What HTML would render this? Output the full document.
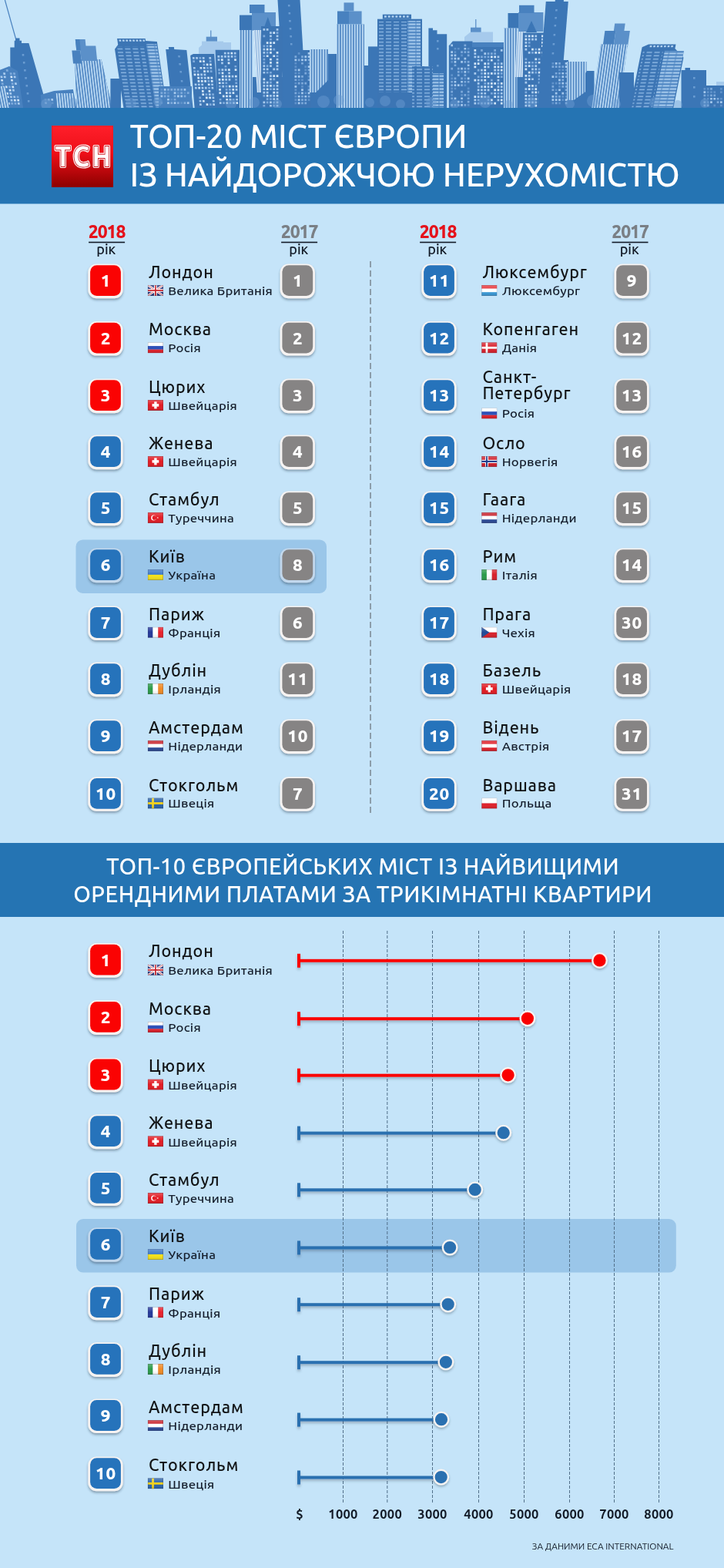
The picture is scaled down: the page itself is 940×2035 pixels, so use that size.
<!DOCTYPE html>
<html lang="uk"><head><meta charset="utf-8"><title>ТОП-20 міст Європи із найдорожчою нерухомістю</title>
<style>
html,body{margin:0;padding:0;background:#c5e4f9;}
body{width:940px;height:2035px;overflow:hidden;}
svg text{font-family:'Ubuntu','Liberation Sans','DejaVu Sans',sans-serif;}
.city{font-size:21.5px;font-weight:500;fill:#111315;letter-spacing:0.85px;}
.ctry{font-size:15.5px;font-weight:500;fill:#141d2b;letter-spacing:0.2px;}
.bn{font-size:22.5px;font-weight:800;fill:#fff;letter-spacing:0.8px;}
.yr{font-size:23px;font-weight:800;letter-spacing:-1.1px;}
.rik{font-size:18px;font-weight:500;fill:#121a26;}
.t1{font-size:42.5px;font-weight:500;fill:#fff;letter-spacing:-0.3px;}
.t2{font-size:29px;font-weight:500;fill:#fff;letter-spacing:0.45px;}
.ax{font-size:16.5px;font-weight:700;fill:#121a26;letter-spacing:0.3px;}
.src{font-size:11.8px;fill:#121a26;}
</style></head><body>
<svg width="940" height="2035" viewBox="0 0 940 2035" style="display:block">
<defs>
<filter id="bsh" x="-30%" y="-30%" width="160%" height="170%"><feDropShadow dx="0" dy="2.2" stdDeviation="1.8" flood-color="#26384a" flood-opacity="0.42"></feDropShadow></filter>
<filter id="dsh" x="-50%" y="-50%" width="200%" height="220%"><feDropShadow dx="0" dy="2" stdDeviation="1.5" flood-color="#2a3a4a" flood-opacity="0.35"></feDropShadow></filter>
<filter id="lsh" x="-5%" y="-100%" width="110%" height="400%"><feDropShadow dx="0" dy="2.5" stdDeviation="1.5" flood-color="#2a3a4a" flood-opacity="0.3"></feDropShadow></filter>
<linearGradient id="flagshade" x1="0" y1="0" x2="0" y2="1"><stop offset="0" stop-color="#fff" stop-opacity="0.25"></stop><stop offset="0.5" stop-color="#fff" stop-opacity="0"></stop><stop offset="1" stop-color="#000" stop-opacity="0.12"></stop></linearGradient>
<linearGradient id="logog" x1="0" y1="0" x2="0" y2="1"><stop offset="0" stop-color="#ff1f2a"></stop><stop offset="0.45" stop-color="#ee0f18"></stop><stop offset="1" stop-color="#8c0000"></stop></linearGradient>
<pattern id="pv" width="3.4" height="10" patternUnits="userSpaceOnUse"><rect x="0.8" width="1.7" height="10" fill="#bcdaf4"></rect></pattern><pattern id="pv2" width="3" height="10" patternUnits="userSpaceOnUse"><rect x="0.6" width="1.1" height="10" fill="#6f9fd3"></rect></pattern><pattern id="ph" width="10" height="4.4" patternUnits="userSpaceOnUse"><rect x="1" y="1.2" width="7" height="1.6" fill="#86b2e0"></rect></pattern><pattern id="ph2" width="10" height="4.2" patternUnits="userSpaceOnUse"><rect x="0.5" y="1.2" width="9" height="1.9" fill="#a9ccee"></rect></pattern><pattern id="pw" width="8" height="8" patternUnits="userSpaceOnUse"><rect x="0.8" y="0.8" width="2.6" height="2.6" fill="#86b1df"></rect><rect x="4.8" y="0.8" width="2.6" height="2.6" fill="#4c83c0"></rect><rect x="0.8" y="4.8" width="2.6" height="2.6" fill="#5187c3"></rect><rect x="4.8" y="4.8" width="2.6" height="2.6" fill="#9dc3ea"></rect></pattern><pattern id="pw2" width="8" height="8" patternUnits="userSpaceOnUse"><rect x="0.8" y="0.8" width="2.8" height="2.8" fill="#b5d5f3"></rect><rect x="4.8" y="0.8" width="2.8" height="2.8" fill="#4a81be"></rect><rect x="0.8" y="4.8" width="2.8" height="2.8" fill="#6898cf"></rect><rect x="4.8" y="4.8" width="2.8" height="2.8" fill="#c3def6"></rect></pattern>
</defs>
<rect width="940" height="2035" fill="#c5e4f9"></rect>
<rect x="0" y="0" width="940" height="141" fill="#c5e4f9"></rect><polygon points="258,62 266,55 300,55 300,140 258,140" fill="#a6caec"></polygon><rect x="262" y="53.6" width="28" height="8.4" fill="#a6caec"></rect><rect x="267.7" y="47.7" width="14.3" height="5.9" fill="#5b90c9"></rect><line x1="273.8" y1="39.5" x2="273.8" y2="48" stroke="#4a82bf" stroke-width="1.1"></line><polygon points="603,48 611,41.5 640,41.5 640,140 603,140" fill="#a6caec"></polygon><rect x="611" y="35.7" width="13.6" height="6" fill="#5b90c9"></rect><line x1="617.8" y1="25" x2="617.8" y2="36" stroke="#4a82bf" stroke-width="1.1"></line><rect x="930" y="106" width="10" height="34" fill="#a6caec"></rect><line x1="6.4" y1="0" x2="20.4" y2="50" stroke="#4a82bf" stroke-width="1.2"></line><polygon points="13.3,61.5 18.7,61.5 18.7,52.8 20,52.8 20,49.4 25.5,49.4 25.5,52.8 28,52.8 28,56 37.4,56 58,128 60,140 13.3,140" fill="#3b76b6"></polygon><rect x="28.68" y="70" width="2.6" height="2.6" fill="#6a9cd2"></rect><rect x="29.88" y="80" width="2.6" height="2.6" fill="#6a9cd2"></rect><rect x="31.08" y="90" width="2.6" height="2.6" fill="#6a9cd2"></rect><rect x="32.28" y="100" width="2.6" height="2.6" fill="#6a9cd2"></rect><rect x="33.48" y="110" width="2.6" height="2.6" fill="#6a9cd2"></rect><rect x="34.68" y="120" width="2.6" height="2.6" fill="#6a9cd2"></rect><rect x="35.88" y="130" width="2.6" height="2.6" fill="#6a9cd2"></rect><g transform="translate(0,86) skewX(8.53) translate(0,-86)"><polygon points="-4,92 12,86 22,92 22,140 -4,140" fill="#4881bf"></polygon><path d="M11.4 98.6h2.7v2.7h-2.7zM-1.5 102.9h2.7v2.7h-2.7zM11.4 102.9h2.7v2.7h-2.7zM2.8 111.5h2.7v2.7h-2.7zM11.4 111.5h2.7v2.7h-2.7zM-1.5 115.8h2.7v2.7h-2.7zM7.1 115.8h2.7v2.7h-2.7zM2.8 120.1h2.7v2.7h-2.7zM-1.5 124.4h2.7v2.7h-2.7zM2.8 124.4h2.7v2.7h-2.7zM11.4 128.7h2.7v2.7h-2.7zM15.7 128.7h2.7v2.7h-2.7zM2.8 133.0h2.7v2.7h-2.7z" fill="#d2e6f8"></path><path d="M2.8 94.3h2.7v2.7h-2.7zM-1.5 98.6h2.7v2.7h-2.7zM2.8 98.6h2.7v2.7h-2.7zM15.7 98.6h2.7v2.7h-2.7zM15.7 107.2h2.7v2.7h-2.7zM-1.5 111.5h2.7v2.7h-2.7zM11.4 115.8h2.7v2.7h-2.7zM-1.5 120.1h2.7v2.7h-2.7zM7.1 120.1h2.7v2.7h-2.7zM7.1 124.4h2.7v2.7h-2.7zM11.4 124.4h2.7v2.7h-2.7zM7.1 128.7h2.7v2.7h-2.7zM-1.5 133.0h2.7v2.7h-2.7zM15.7 133.0h2.7v2.7h-2.7z" fill="#a9cbee"></path><path d="M7.1 90.0h2.7v2.7h-2.7zM11.4 94.3h2.7v2.7h-2.7zM15.7 94.3h2.7v2.7h-2.7zM-1.5 107.2h2.7v2.7h-2.7zM11.4 107.2h2.7v2.7h-2.7zM7.1 111.5h2.7v2.7h-2.7zM15.7 124.4h2.7v2.7h-2.7zM7.1 133.0h2.7v2.7h-2.7zM11.4 133.0h2.7v2.7h-2.7z" fill="#7fabdc"></path></g><g transform="translate(0,112) skewX(11.31) translate(0,-112)"><rect x="-6" y="112" width="13" height="28" fill="#5087c3"></rect><rect x="-6" y="112" width="13" height="28" fill="url(#pv)"></rect></g><g transform="translate(0,117) skewX(5.71) translate(0,-117)"><polygon points="52,123 70,118 95,116 97,140 52,140" fill="#4881bf"></polygon><rect x="72" y="121" width="23" height="19" fill="#5087c3"></rect><rect x="72" y="121" width="23" height="19" fill="url(#pv)"></rect><rect x="54" y="125" width="16" height="15" fill="#4881bf"></rect><path d="M65.1 128.0h2.7v2.7h-2.7z" fill="#a6c9ed"></path><path d="M60.8 128.0h2.7v2.7h-2.7zM56.5 132.3h2.7v2.7h-2.7z" fill="#7eaadb"></path><path d="M56.5 128.0h2.7v2.7h-2.7zM65.1 132.3h2.7v2.7h-2.7z" fill="#5f92ca"></path></g><clipPath id="cpB"><polygon points="97,77 131.5,77 145.5,140 99.6,140"></polygon></clipPath><polygon points="97,77 131.5,77 145.5,140 99.6,140" fill="#5087c3"></polygon><g clip-path="url(#cpB)"><g transform="translate(0,77) skewX(6.84) translate(0,-77)"><rect x="90" y="77" width="60" height="73" fill="#5087c3"></rect><rect x="90" y="77" width="60" height="73" fill="url(#pv)"></rect></g></g><g transform="translate(0,77) skewX(5.71) translate(0,-77)"><rect x="94.5" y="65.5" width="11" height="17" fill="#4881bf"></rect><rect x="100.4" y="51" width="12.8" height="14.5" fill="#5b90c9"></rect><rect x="105.5" y="59.6" width="20.5" height="19.4" fill="#5b90c9"></rect><rect x="100.4" y="51" width="5.6" height="14.5" fill="#4881bf"></rect></g><rect x="143.4" y="102" width="13.6" height="38" fill="#3b76b6"></rect><g transform="translate(0,55) skewX(8.53) translate(0,-55)"><polygon points="147.7,63.8 152.8,58 152.8,50 189.4,50 189.4,53 204,54 204,150 147.7,150" fill="#3c75b4"></polygon><rect x="155" y="51.5" width="2.6" height="2.2" fill="#b3d3f1"></rect><rect x="159.4" y="51.5" width="2.6" height="2.2" fill="#b3d3f1"></rect><rect x="163.8" y="51.5" width="2.6" height="2.2" fill="#b3d3f1"></rect><rect x="168.2" y="51.5" width="2.6" height="2.2" fill="#b3d3f1"></rect><rect x="172.6" y="51.5" width="2.6" height="2.2" fill="#b3d3f1"></rect><rect x="177" y="51.5" width="2.6" height="2.2" fill="#b3d3f1"></rect><rect x="181.4" y="51.5" width="2.6" height="2.2" fill="#b3d3f1"></rect><rect x="185.8" y="51.5" width="2.6" height="2.2" fill="#b3d3f1"></rect><rect x="151" y="60" width="35" height="90" fill="#3c75b4"></rect><rect x="151" y="60" width="35" height="90" fill="url(#ph)"></rect><rect x="189.5" y="57" width="13.5" height="93" fill="#5087c3"></rect><rect x="189.5" y="57" width="13.5" height="93" fill="url(#ph2)"></rect><rect x="168" y="58" width="-166.9" height="34" fill="#b3d3f1"></rect><rect x="187.3" y="56" width="-186.1" height="38" fill="#b3d3f1"></rect></g><g transform="translate(0,62) skewX(6.28) translate(0,-62)"><polygon points="215,64 219,64 219,61 226,61 226,64 242,65 242,150 215,150" fill="#3b76b6"></polygon><rect x="230" y="72" width="2.6" height="2.6" fill="#6a9cd2"></rect><rect x="230" y="82" width="2.6" height="2.6" fill="#6a9cd2"></rect><rect x="230" y="92" width="2.6" height="2.6" fill="#6a9cd2"></rect><rect x="230" y="104" width="2.6" height="2.6" fill="#6a9cd2"></rect><rect x="230" y="116" width="2.6" height="2.6" fill="#6a9cd2"></rect></g><rect x="206" y="112" width="43" height="28" fill="#4881bf"></rect><path d="M212.8 115.0h2.7v2.7h-2.7zM238.6 115.0h2.7v2.7h-2.7zM225.7 119.3h2.7v2.7h-2.7zM208.5 123.6h2.7v2.7h-2.7zM230.0 123.6h2.7v2.7h-2.7zM234.3 123.6h2.7v2.7h-2.7zM217.1 127.9h2.7v2.7h-2.7zM217.1 132.2h2.7v2.7h-2.7zM225.7 132.2h2.7v2.7h-2.7zM242.9 132.2h2.7v2.7h-2.7z" fill="#a6c9ed"></path><path d="M217.1 115.0h2.7v2.7h-2.7zM221.4 115.0h2.7v2.7h-2.7zM225.7 115.0h2.7v2.7h-2.7zM230.0 115.0h2.7v2.7h-2.7zM234.3 115.0h2.7v2.7h-2.7zM208.5 119.3h2.7v2.7h-2.7zM212.8 119.3h2.7v2.7h-2.7zM234.3 119.3h2.7v2.7h-2.7zM242.9 119.3h2.7v2.7h-2.7zM212.8 123.6h2.7v2.7h-2.7zM217.1 123.6h2.7v2.7h-2.7zM225.7 123.6h2.7v2.7h-2.7zM238.6 123.6h2.7v2.7h-2.7zM225.7 127.9h2.7v2.7h-2.7zM221.4 132.2h2.7v2.7h-2.7zM230.0 132.2h2.7v2.7h-2.7zM238.6 132.2h2.7v2.7h-2.7z" fill="#7eaadb"></path><path d="M208.5 115.0h2.7v2.7h-2.7zM217.1 119.3h2.7v2.7h-2.7zM230.0 119.3h2.7v2.7h-2.7zM238.6 119.3h2.7v2.7h-2.7zM221.4 127.9h2.7v2.7h-2.7zM208.5 132.2h2.7v2.7h-2.7zM234.3 132.2h2.7v2.7h-2.7z" fill="#5f92ca"></path><g transform="translate(0,70) skewX(4.57) translate(0,-70)"><polygon points="247,72 251,70 278,70 278,150 247,150" fill="#3c75b4"></polygon><path d="M258.1 78.3h2.7v2.7h-2.7zM262.4 78.3h2.7v2.7h-2.7zM266.7 82.6h2.7v2.7h-2.7zM271.0 82.6h2.7v2.7h-2.7zM258.1 86.9h2.7v2.7h-2.7zM262.4 86.9h2.7v2.7h-2.7zM262.4 91.2h2.7v2.7h-2.7zM249.5 95.5h2.7v2.7h-2.7zM253.8 95.5h2.7v2.7h-2.7zM253.8 99.8h2.7v2.7h-2.7zM266.7 99.8h2.7v2.7h-2.7zM271.0 99.8h2.7v2.7h-2.7zM253.8 104.1h2.7v2.7h-2.7zM258.1 104.1h2.7v2.7h-2.7zM262.4 104.1h2.7v2.7h-2.7zM271.0 104.1h2.7v2.7h-2.7zM266.7 108.4h2.7v2.7h-2.7zM253.8 112.7h2.7v2.7h-2.7zM258.1 117.0h2.7v2.7h-2.7zM266.7 117.0h2.7v2.7h-2.7zM258.1 121.3h2.7v2.7h-2.7zM262.4 125.6h2.7v2.7h-2.7zM266.7 125.6h2.7v2.7h-2.7zM258.1 129.9h2.7v2.7h-2.7zM262.4 134.2h2.7v2.7h-2.7z" fill="#d2e6f8"></path><path d="M249.5 74.0h2.7v2.7h-2.7zM253.8 74.0h2.7v2.7h-2.7zM262.4 74.0h2.7v2.7h-2.7zM271.0 74.0h2.7v2.7h-2.7zM249.5 86.9h2.7v2.7h-2.7zM271.0 86.9h2.7v2.7h-2.7zM266.7 91.2h2.7v2.7h-2.7zM258.1 95.5h2.7v2.7h-2.7zM262.4 95.5h2.7v2.7h-2.7zM258.1 99.8h2.7v2.7h-2.7zM262.4 99.8h2.7v2.7h-2.7zM249.5 108.4h2.7v2.7h-2.7zM253.8 108.4h2.7v2.7h-2.7zM258.1 108.4h2.7v2.7h-2.7zM271.0 108.4h2.7v2.7h-2.7zM249.5 112.7h2.7v2.7h-2.7zM258.1 112.7h2.7v2.7h-2.7zM262.4 112.7h2.7v2.7h-2.7zM271.0 112.7h2.7v2.7h-2.7zM266.7 121.3h2.7v2.7h-2.7zM271.0 125.6h2.7v2.7h-2.7zM253.8 129.9h2.7v2.7h-2.7zM271.0 129.9h2.7v2.7h-2.7zM253.8 134.2h2.7v2.7h-2.7zM271.0 134.2h2.7v2.7h-2.7z" fill="#a9cbee"></path><path d="M258.1 74.0h2.7v2.7h-2.7zM249.5 78.3h2.7v2.7h-2.7zM271.0 78.3h2.7v2.7h-2.7zM262.4 82.6h2.7v2.7h-2.7zM266.7 86.9h2.7v2.7h-2.7zM249.5 91.2h2.7v2.7h-2.7zM253.8 91.2h2.7v2.7h-2.7zM271.0 91.2h2.7v2.7h-2.7zM266.7 104.1h2.7v2.7h-2.7zM266.7 112.7h2.7v2.7h-2.7zM262.4 121.3h2.7v2.7h-2.7zM271.0 121.3h2.7v2.7h-2.7zM253.8 125.6h2.7v2.7h-2.7zM266.7 134.2h2.7v2.7h-2.7z" fill="#7fabdc"></path></g><g transform="translate(0,64) skewX(2.29) translate(0,-64)"><rect x="279.6" y="64.7" width="32.4" height="75.3" fill="#3c75b4"></rect><path d="M299.3 67.7h2.7v2.7h-2.7zM286.4 76.3h2.7v2.7h-2.7zM303.6 76.3h2.7v2.7h-2.7zM295.0 80.6h2.7v2.7h-2.7zM295.0 89.2h2.7v2.7h-2.7zM303.6 89.2h2.7v2.7h-2.7zM286.4 93.5h2.7v2.7h-2.7zM286.4 97.8h2.7v2.7h-2.7zM295.0 97.8h2.7v2.7h-2.7zM303.6 97.8h2.7v2.7h-2.7zM282.1 102.1h2.7v2.7h-2.7zM286.4 102.1h2.7v2.7h-2.7zM282.1 106.4h2.7v2.7h-2.7zM295.0 110.7h2.7v2.7h-2.7zM303.6 110.7h2.7v2.7h-2.7zM282.1 115.0h2.7v2.7h-2.7zM299.3 115.0h2.7v2.7h-2.7zM282.1 119.3h2.7v2.7h-2.7zM290.7 119.3h2.7v2.7h-2.7zM299.3 119.3h2.7v2.7h-2.7zM286.4 123.6h2.7v2.7h-2.7zM290.7 123.6h2.7v2.7h-2.7zM295.0 123.6h2.7v2.7h-2.7zM290.7 127.9h2.7v2.7h-2.7zM295.0 127.9h2.7v2.7h-2.7zM290.7 132.2h2.7v2.7h-2.7zM303.6 132.2h2.7v2.7h-2.7z" fill="#d2e6f8"></path><path d="M290.7 67.7h2.7v2.7h-2.7zM295.0 67.7h2.7v2.7h-2.7zM303.6 67.7h2.7v2.7h-2.7zM282.1 72.0h2.7v2.7h-2.7zM286.4 72.0h2.7v2.7h-2.7zM290.7 72.0h2.7v2.7h-2.7zM295.0 72.0h2.7v2.7h-2.7zM299.3 72.0h2.7v2.7h-2.7zM282.1 76.3h2.7v2.7h-2.7zM295.0 76.3h2.7v2.7h-2.7zM286.4 80.6h2.7v2.7h-2.7zM286.4 89.2h2.7v2.7h-2.7zM290.7 89.2h2.7v2.7h-2.7zM295.0 93.5h2.7v2.7h-2.7zM290.7 97.8h2.7v2.7h-2.7zM299.3 97.8h2.7v2.7h-2.7zM290.7 102.1h2.7v2.7h-2.7zM295.0 102.1h2.7v2.7h-2.7zM286.4 106.4h2.7v2.7h-2.7zM286.4 110.7h2.7v2.7h-2.7zM299.3 110.7h2.7v2.7h-2.7zM303.6 115.0h2.7v2.7h-2.7zM295.0 119.3h2.7v2.7h-2.7zM303.6 123.6h2.7v2.7h-2.7zM303.6 127.9h2.7v2.7h-2.7zM282.1 132.2h2.7v2.7h-2.7zM299.3 132.2h2.7v2.7h-2.7z" fill="#a9cbee"></path><path d="M303.6 72.0h2.7v2.7h-2.7zM290.7 84.9h2.7v2.7h-2.7zM303.6 84.9h2.7v2.7h-2.7zM282.1 89.2h2.7v2.7h-2.7zM282.1 93.5h2.7v2.7h-2.7zM303.6 102.1h2.7v2.7h-2.7zM290.7 106.4h2.7v2.7h-2.7zM303.6 106.4h2.7v2.7h-2.7zM282.1 110.7h2.7v2.7h-2.7zM290.7 110.7h2.7v2.7h-2.7zM290.7 115.0h2.7v2.7h-2.7zM295.0 115.0h2.7v2.7h-2.7zM282.1 127.9h2.7v2.7h-2.7zM299.3 127.9h2.7v2.7h-2.7zM286.4 132.2h2.7v2.7h-2.7zM295.0 132.2h2.7v2.7h-2.7z" fill="#7fabdc"></path></g><rect x="318" y="100" width="122" height="40" fill="#3b76b6"></rect><rect x="311" y="19.6" width="16.3" height="19.4" fill="#3b76b6"></rect><rect x="327" y="16" width="31" height="24" fill="#5b90c9"></rect><rect x="324" y="6" width="19.5" height="11" fill="#4881bf"></rect><rect x="311" y="39" width="17" height="101" fill="#5087c3"></rect><rect x="311" y="39" width="17" height="101" fill="url(#pv)"></rect><g transform="translate(0,39) skewX(3.43) translate(0,-39)"><rect x="329" y="39" width="12" height="81" fill="#dcecfa"></rect><rect x="329" y="39" width="12" height="81" fill="url(#pv2)"></rect></g><g transform="translate(0,0) skewX(3.43) translate(0,0)"><rect x="360.5" y="0" width="29" height="140" fill="#3b76b6"></rect><rect x="373.5" y="6" width="2.6" height="2.6" fill="#6a9cd2"></rect><rect x="373.5" y="16" width="2.6" height="2.6" fill="#6a9cd2"></rect><rect x="373.5" y="26" width="2.6" height="2.6" fill="#6a9cd2"></rect><rect x="373.5" y="36" width="2.6" height="2.6" fill="#6a9cd2"></rect><rect x="373.5" y="46" width="2.6" height="2.6" fill="#6a9cd2"></rect><rect x="373.5" y="56" width="2.6" height="2.6" fill="#6a9cd2"></rect></g><polygon points="343.5,34 347.8,22 352,34" fill="#3b76b6"></polygon><rect x="339" y="34" width="27.5" height="106" fill="#3c75b4"></rect><path d="M354.4 41.3h2.7v2.7h-2.7zM345.8 54.2h2.7v2.7h-2.7zM350.1 54.2h2.7v2.7h-2.7zM354.4 54.2h2.7v2.7h-2.7zM350.1 58.5h2.7v2.7h-2.7zM345.8 62.8h2.7v2.7h-2.7zM350.1 62.8h2.7v2.7h-2.7zM350.1 67.1h2.7v2.7h-2.7zM358.7 67.1h2.7v2.7h-2.7zM345.8 71.4h2.7v2.7h-2.7zM354.4 71.4h2.7v2.7h-2.7zM350.1 75.7h2.7v2.7h-2.7zM350.1 80.0h2.7v2.7h-2.7zM358.7 80.0h2.7v2.7h-2.7zM354.4 97.2h2.7v2.7h-2.7zM358.7 97.2h2.7v2.7h-2.7zM341.5 101.5h2.7v2.7h-2.7zM358.7 105.8h2.7v2.7h-2.7zM350.1 110.1h2.7v2.7h-2.7zM345.8 114.4h2.7v2.7h-2.7zM354.4 118.7h2.7v2.7h-2.7zM345.8 123.0h2.7v2.7h-2.7zM358.7 123.0h2.7v2.7h-2.7z" fill="#d2e6f8"></path><path d="M341.5 37.0h2.7v2.7h-2.7zM345.8 37.0h2.7v2.7h-2.7zM358.7 37.0h2.7v2.7h-2.7zM350.1 41.3h2.7v2.7h-2.7zM350.1 45.6h2.7v2.7h-2.7zM358.7 45.6h2.7v2.7h-2.7zM358.7 49.9h2.7v2.7h-2.7zM341.5 62.8h2.7v2.7h-2.7zM341.5 67.1h2.7v2.7h-2.7zM358.7 75.7h2.7v2.7h-2.7zM341.5 84.3h2.7v2.7h-2.7zM350.1 84.3h2.7v2.7h-2.7zM358.7 84.3h2.7v2.7h-2.7zM341.5 88.6h2.7v2.7h-2.7zM345.8 88.6h2.7v2.7h-2.7zM354.4 88.6h2.7v2.7h-2.7zM358.7 88.6h2.7v2.7h-2.7zM341.5 92.9h2.7v2.7h-2.7zM350.1 97.2h2.7v2.7h-2.7zM350.1 101.5h2.7v2.7h-2.7zM341.5 105.8h2.7v2.7h-2.7zM345.8 105.8h2.7v2.7h-2.7zM341.5 110.1h2.7v2.7h-2.7zM345.8 110.1h2.7v2.7h-2.7zM358.7 110.1h2.7v2.7h-2.7zM341.5 114.4h2.7v2.7h-2.7zM354.4 114.4h2.7v2.7h-2.7zM358.7 114.4h2.7v2.7h-2.7zM341.5 118.7h2.7v2.7h-2.7zM345.8 118.7h2.7v2.7h-2.7zM358.7 118.7h2.7v2.7h-2.7zM350.1 123.0h2.7v2.7h-2.7zM354.4 123.0h2.7v2.7h-2.7zM354.4 127.3h2.7v2.7h-2.7zM358.7 127.3h2.7v2.7h-2.7zM341.5 131.6h2.7v2.7h-2.7zM350.1 131.6h2.7v2.7h-2.7zM358.7 131.6h2.7v2.7h-2.7zM350.1 135.9h2.7v2.7h-2.7zM358.7 135.9h2.7v2.7h-2.7z" fill="#a9cbee"></path><path d="M358.7 41.3h2.7v2.7h-2.7zM341.5 45.6h2.7v2.7h-2.7zM350.1 49.9h2.7v2.7h-2.7zM341.5 58.5h2.7v2.7h-2.7zM345.8 58.5h2.7v2.7h-2.7zM354.4 62.8h2.7v2.7h-2.7zM345.8 67.1h2.7v2.7h-2.7zM341.5 71.4h2.7v2.7h-2.7zM358.7 71.4h2.7v2.7h-2.7zM341.5 75.7h2.7v2.7h-2.7zM341.5 80.0h2.7v2.7h-2.7zM345.8 84.3h2.7v2.7h-2.7zM345.8 92.9h2.7v2.7h-2.7zM350.1 92.9h2.7v2.7h-2.7zM354.4 101.5h2.7v2.7h-2.7zM350.1 105.8h2.7v2.7h-2.7zM354.4 110.1h2.7v2.7h-2.7zM350.1 114.4h2.7v2.7h-2.7zM341.5 123.0h2.7v2.7h-2.7zM345.8 127.3h2.7v2.7h-2.7zM350.1 127.3h2.7v2.7h-2.7zM345.8 131.6h2.7v2.7h-2.7zM354.4 131.6h2.7v2.7h-2.7zM341.5 135.9h2.7v2.7h-2.7zM354.4 135.9h2.7v2.7h-2.7z" fill="#7fabdc"></path><rect x="380" y="65" width="24" height="75" fill="#3c75b4"></rect><path d="M399.7 68.0h2.7v2.7h-2.7zM395.4 72.3h2.7v2.7h-2.7zM399.7 72.3h2.7v2.7h-2.7zM382.5 76.6h2.7v2.7h-2.7zM391.1 76.6h2.7v2.7h-2.7zM395.4 76.6h2.7v2.7h-2.7zM399.7 85.2h2.7v2.7h-2.7zM386.8 89.5h2.7v2.7h-2.7zM382.5 98.1h2.7v2.7h-2.7zM386.8 98.1h2.7v2.7h-2.7zM382.5 111.0h2.7v2.7h-2.7zM391.1 115.3h2.7v2.7h-2.7zM391.1 119.6h2.7v2.7h-2.7zM399.7 119.6h2.7v2.7h-2.7zM386.8 123.9h2.7v2.7h-2.7zM395.4 123.9h2.7v2.7h-2.7zM386.8 128.2h2.7v2.7h-2.7zM386.8 132.5h2.7v2.7h-2.7z" fill="#a6c9ed"></path><path d="M382.5 72.3h2.7v2.7h-2.7zM391.1 72.3h2.7v2.7h-2.7zM386.8 76.6h2.7v2.7h-2.7zM399.7 76.6h2.7v2.7h-2.7zM391.1 80.9h2.7v2.7h-2.7zM382.5 89.5h2.7v2.7h-2.7zM399.7 89.5h2.7v2.7h-2.7zM395.4 93.8h2.7v2.7h-2.7zM391.1 98.1h2.7v2.7h-2.7zM382.5 102.4h2.7v2.7h-2.7zM399.7 102.4h2.7v2.7h-2.7zM386.8 106.7h2.7v2.7h-2.7zM391.1 106.7h2.7v2.7h-2.7zM395.4 106.7h2.7v2.7h-2.7zM399.7 115.3h2.7v2.7h-2.7zM382.5 119.6h2.7v2.7h-2.7zM391.1 123.9h2.7v2.7h-2.7zM399.7 123.9h2.7v2.7h-2.7zM391.1 128.2h2.7v2.7h-2.7zM395.4 128.2h2.7v2.7h-2.7zM391.1 132.5h2.7v2.7h-2.7zM395.4 132.5h2.7v2.7h-2.7z" fill="#7eaadb"></path><path d="M386.8 68.0h2.7v2.7h-2.7zM382.5 80.9h2.7v2.7h-2.7zM399.7 80.9h2.7v2.7h-2.7zM382.5 85.2h2.7v2.7h-2.7zM395.4 85.2h2.7v2.7h-2.7zM395.4 89.5h2.7v2.7h-2.7zM382.5 93.8h2.7v2.7h-2.7zM386.8 93.8h2.7v2.7h-2.7zM399.7 93.8h2.7v2.7h-2.7zM399.7 98.1h2.7v2.7h-2.7zM386.8 102.4h2.7v2.7h-2.7zM391.1 102.4h2.7v2.7h-2.7zM382.5 106.7h2.7v2.7h-2.7zM391.1 111.0h2.7v2.7h-2.7zM399.7 111.0h2.7v2.7h-2.7zM382.5 115.3h2.7v2.7h-2.7zM386.8 119.6h2.7v2.7h-2.7zM395.4 119.6h2.7v2.7h-2.7zM382.5 123.9h2.7v2.7h-2.7zM382.5 128.2h2.7v2.7h-2.7zM399.7 128.2h2.7v2.7h-2.7zM382.5 132.5h2.7v2.7h-2.7z" fill="#5f92ca"></path><polygon points="402,64 426,64 426,104 410,120 402,120" fill="#5087c3"></polygon><polygon points="402,64 426,64 426,104 410,120 402,120" fill="url(#pv)"></polygon><rect x="426" y="70" width="14" height="70" fill="#3b76b6"></rect><rect x="446.5" y="3.4" width="12.9" height="11.1" fill="#5b90c9"></rect><rect x="438" y="14.5" width="15" height="17" fill="#4881bf"></rect><rect x="453" y="14.5" width="16.6" height="17" fill="#5b90c9"></rect><rect x="437" y="31.5" width="36" height="108.5" fill="#5087c3"></rect><rect x="437" y="31.5" width="36" height="108.5" fill="url(#pv)"></rect><rect x="473" y="85" width="5" height="55" fill="#3b76b6"></rect><rect x="478" y="60.4" width="12" height="79.6" fill="#3b76b6"></rect><rect x="496.8" y="18.7" width="37.2" height="6" fill="#3c75b4"></rect><rect x="499" y="20.3" width="2.8" height="2.4" fill="#b3d3f1"></rect><rect x="503.8" y="20.3" width="2.8" height="2.4" fill="#b3d3f1"></rect><rect x="508.6" y="20.3" width="2.8" height="2.4" fill="#b3d3f1"></rect><rect x="513.4" y="20.3" width="2.8" height="2.4" fill="#b3d3f1"></rect><rect x="518.2" y="20.3" width="2.8" height="2.4" fill="#b3d3f1"></rect><rect x="523" y="20.3" width="2.8" height="2.4" fill="#b3d3f1"></rect><rect x="527.8" y="20.3" width="2.8" height="2.4" fill="#b3d3f1"></rect><rect x="490" y="24.7" width="58" height="115.3" fill="#3c75b4"></rect><rect x="492" y="28" width="36" height="92" fill="#3c75b4"></rect><rect x="492" y="28" width="36" height="92" fill="url(#ph)"></rect><rect x="529" y="27" width="17" height="93" fill="#5087c3"></rect><rect x="529" y="27" width="17" height="93" fill="url(#ph2)"></rect><rect x="501" y="26" width="-499.9" height="68" fill="#b3d3f1"></rect><rect x="515.5" y="26" width="-514.4" height="68" fill="#b3d3f1"></rect><rect x="528.3" y="26" width="-527.2" height="68" fill="#b3d3f1"></rect><polygon points="556.4,36.6 562,36.6 562,39.2 567.5,39.2 567.5,44.2 580.2,44.2 580.2,140 556.4,140" fill="#3b76b6"></polygon><rect x="567" y="52" width="2.6" height="2.6" fill="#6a9cd2"></rect><rect x="567" y="62" width="2.6" height="2.6" fill="#6a9cd2"></rect><rect x="567" y="84" width="2.6" height="2.6" fill="#6a9cd2"></rect><rect x="535" y="86" width="27" height="54" fill="#3c75b4"></rect><rect x="535" y="86" width="27" height="54" fill="url(#ph)"></rect><rect x="562" y="95" width="14" height="45" fill="#4881bf"></rect><rect x="562" y="95" width="14" height="45" fill="url(#ph2)"></rect><polygon points="582.8,59.6 587.8,53.6 613.5,53.6 613.5,140 582.8,140" fill="#3c75b4"></polygon><path d="M585.3 57.6h2.7v2.7h-2.7zM602.5 61.9h2.7v2.7h-2.7zM585.3 66.2h2.7v2.7h-2.7zM585.3 70.5h2.7v2.7h-2.7zM589.6 70.5h2.7v2.7h-2.7zM589.6 74.8h2.7v2.7h-2.7zM593.9 74.8h2.7v2.7h-2.7zM602.5 74.8h2.7v2.7h-2.7zM589.6 79.1h2.7v2.7h-2.7zM598.2 79.1h2.7v2.7h-2.7zM606.8 83.4h2.7v2.7h-2.7zM598.2 87.7h2.7v2.7h-2.7zM602.5 92.0h2.7v2.7h-2.7zM606.8 100.6h2.7v2.7h-2.7zM589.6 104.9h2.7v2.7h-2.7zM598.2 104.9h2.7v2.7h-2.7zM589.6 109.2h2.7v2.7h-2.7zM593.9 109.2h2.7v2.7h-2.7zM589.6 126.4h2.7v2.7h-2.7zM598.2 126.4h2.7v2.7h-2.7zM593.9 130.7h2.7v2.7h-2.7zM585.3 135.0h2.7v2.7h-2.7zM598.2 135.0h2.7v2.7h-2.7z" fill="#a6c9ed"></path><path d="M602.5 57.6h2.7v2.7h-2.7zM598.2 66.2h2.7v2.7h-2.7zM602.5 66.2h2.7v2.7h-2.7zM606.8 66.2h2.7v2.7h-2.7zM606.8 70.5h2.7v2.7h-2.7zM585.3 74.8h2.7v2.7h-2.7zM602.5 79.1h2.7v2.7h-2.7zM606.8 79.1h2.7v2.7h-2.7zM589.6 83.4h2.7v2.7h-2.7zM585.3 87.7h2.7v2.7h-2.7zM593.9 87.7h2.7v2.7h-2.7zM602.5 87.7h2.7v2.7h-2.7zM606.8 87.7h2.7v2.7h-2.7zM593.9 92.0h2.7v2.7h-2.7zM593.9 96.3h2.7v2.7h-2.7zM602.5 96.3h2.7v2.7h-2.7zM589.6 100.6h2.7v2.7h-2.7zM598.2 100.6h2.7v2.7h-2.7zM585.3 104.9h2.7v2.7h-2.7zM602.5 104.9h2.7v2.7h-2.7zM606.8 104.9h2.7v2.7h-2.7zM585.3 109.2h2.7v2.7h-2.7zM598.2 109.2h2.7v2.7h-2.7zM585.3 117.8h2.7v2.7h-2.7zM598.2 117.8h2.7v2.7h-2.7zM606.8 117.8h2.7v2.7h-2.7zM602.5 122.1h2.7v2.7h-2.7zM585.3 126.4h2.7v2.7h-2.7zM606.8 126.4h2.7v2.7h-2.7zM598.2 130.7h2.7v2.7h-2.7zM606.8 130.7h2.7v2.7h-2.7zM589.6 135.0h2.7v2.7h-2.7zM593.9 135.0h2.7v2.7h-2.7zM602.5 135.0h2.7v2.7h-2.7z" fill="#7eaadb"></path><path d="M589.6 61.9h2.7v2.7h-2.7zM593.9 61.9h2.7v2.7h-2.7zM606.8 61.9h2.7v2.7h-2.7zM589.6 66.2h2.7v2.7h-2.7zM598.2 70.5h2.7v2.7h-2.7zM585.3 79.1h2.7v2.7h-2.7zM598.2 92.0h2.7v2.7h-2.7zM606.8 92.0h2.7v2.7h-2.7zM585.3 96.3h2.7v2.7h-2.7zM585.3 100.6h2.7v2.7h-2.7zM602.5 100.6h2.7v2.7h-2.7zM602.5 109.2h2.7v2.7h-2.7zM585.3 113.5h2.7v2.7h-2.7zM589.6 113.5h2.7v2.7h-2.7zM606.8 113.5h2.7v2.7h-2.7zM585.3 122.1h2.7v2.7h-2.7zM598.2 122.1h2.7v2.7h-2.7zM606.8 122.1h2.7v2.7h-2.7zM606.8 135.0h2.7v2.7h-2.7z" fill="#5f92ca"></path><rect x="613" y="55" width="48" height="6" fill="#4881bf"></rect><rect x="613" y="61" width="48" height="79" fill="#3c75b4"></rect><path d="M615.5 64.0h2.7v2.7h-2.7zM637.0 72.6h2.7v2.7h-2.7zM641.3 72.6h2.7v2.7h-2.7zM654.2 72.6h2.7v2.7h-2.7zM637.0 76.9h2.7v2.7h-2.7zM615.5 81.2h2.7v2.7h-2.7zM619.8 81.2h2.7v2.7h-2.7zM628.4 81.2h2.7v2.7h-2.7zM615.5 85.5h2.7v2.7h-2.7zM628.4 85.5h2.7v2.7h-2.7zM641.3 85.5h2.7v2.7h-2.7zM645.6 85.5h2.7v2.7h-2.7zM649.9 85.5h2.7v2.7h-2.7zM628.4 89.8h2.7v2.7h-2.7zM649.9 89.8h2.7v2.7h-2.7zM628.4 94.1h2.7v2.7h-2.7zM637.0 94.1h2.7v2.7h-2.7zM628.4 98.4h2.7v2.7h-2.7zM632.7 98.4h2.7v2.7h-2.7zM645.6 98.4h2.7v2.7h-2.7zM615.5 102.7h2.7v2.7h-2.7zM628.4 102.7h2.7v2.7h-2.7zM637.0 107.0h2.7v2.7h-2.7zM641.3 107.0h2.7v2.7h-2.7zM649.9 107.0h2.7v2.7h-2.7zM654.2 107.0h2.7v2.7h-2.7zM628.4 111.3h2.7v2.7h-2.7zM637.0 111.3h2.7v2.7h-2.7zM654.2 111.3h2.7v2.7h-2.7zM641.3 115.6h2.7v2.7h-2.7zM645.6 115.6h2.7v2.7h-2.7zM654.2 119.9h2.7v2.7h-2.7zM615.5 124.2h2.7v2.7h-2.7zM624.1 124.2h2.7v2.7h-2.7zM641.3 124.2h2.7v2.7h-2.7zM637.0 128.5h2.7v2.7h-2.7zM649.9 128.5h2.7v2.7h-2.7zM641.3 132.8h2.7v2.7h-2.7zM649.9 132.8h2.7v2.7h-2.7z" fill="#d2e6f8"></path><path d="M649.9 64.0h2.7v2.7h-2.7zM654.2 64.0h2.7v2.7h-2.7zM615.5 68.3h2.7v2.7h-2.7zM628.4 68.3h2.7v2.7h-2.7zM615.5 72.6h2.7v2.7h-2.7zM619.8 72.6h2.7v2.7h-2.7zM645.6 72.6h2.7v2.7h-2.7zM619.8 76.9h2.7v2.7h-2.7zM624.1 76.9h2.7v2.7h-2.7zM632.7 81.2h2.7v2.7h-2.7zM641.3 81.2h2.7v2.7h-2.7zM649.9 81.2h2.7v2.7h-2.7zM632.7 85.5h2.7v2.7h-2.7zM624.1 89.8h2.7v2.7h-2.7zM641.3 89.8h2.7v2.7h-2.7zM645.6 89.8h2.7v2.7h-2.7zM615.5 94.1h2.7v2.7h-2.7zM632.7 94.1h2.7v2.7h-2.7zM641.3 94.1h2.7v2.7h-2.7zM645.6 94.1h2.7v2.7h-2.7zM654.2 94.1h2.7v2.7h-2.7zM619.8 102.7h2.7v2.7h-2.7zM624.1 102.7h2.7v2.7h-2.7zM645.6 102.7h2.7v2.7h-2.7zM654.2 102.7h2.7v2.7h-2.7zM619.8 107.0h2.7v2.7h-2.7zM632.7 107.0h2.7v2.7h-2.7zM624.1 111.3h2.7v2.7h-2.7zM632.7 111.3h2.7v2.7h-2.7zM645.6 111.3h2.7v2.7h-2.7zM649.9 111.3h2.7v2.7h-2.7zM619.8 115.6h2.7v2.7h-2.7zM624.1 115.6h2.7v2.7h-2.7zM628.4 115.6h2.7v2.7h-2.7zM632.7 115.6h2.7v2.7h-2.7zM649.9 115.6h2.7v2.7h-2.7zM654.2 115.6h2.7v2.7h-2.7zM624.1 119.9h2.7v2.7h-2.7zM628.4 119.9h2.7v2.7h-2.7zM641.3 119.9h2.7v2.7h-2.7zM649.9 119.9h2.7v2.7h-2.7zM619.8 124.2h2.7v2.7h-2.7zM628.4 124.2h2.7v2.7h-2.7zM645.6 124.2h2.7v2.7h-2.7zM649.9 124.2h2.7v2.7h-2.7zM615.5 128.5h2.7v2.7h-2.7zM645.6 128.5h2.7v2.7h-2.7zM654.2 128.5h2.7v2.7h-2.7zM615.5 132.8h2.7v2.7h-2.7zM632.7 132.8h2.7v2.7h-2.7z" fill="#a9cbee"></path><path d="M624.1 64.0h2.7v2.7h-2.7zM641.3 64.0h2.7v2.7h-2.7zM632.7 68.3h2.7v2.7h-2.7zM637.0 68.3h2.7v2.7h-2.7zM641.3 68.3h2.7v2.7h-2.7zM624.1 72.6h2.7v2.7h-2.7zM628.4 72.6h2.7v2.7h-2.7zM632.7 72.6h2.7v2.7h-2.7zM632.7 76.9h2.7v2.7h-2.7zM645.6 76.9h2.7v2.7h-2.7zM654.2 76.9h2.7v2.7h-2.7zM645.6 81.2h2.7v2.7h-2.7zM619.8 89.8h2.7v2.7h-2.7zM624.1 94.1h2.7v2.7h-2.7zM649.9 94.1h2.7v2.7h-2.7zM619.8 98.4h2.7v2.7h-2.7zM624.1 98.4h2.7v2.7h-2.7zM649.9 98.4h2.7v2.7h-2.7zM637.0 102.7h2.7v2.7h-2.7zM628.4 107.0h2.7v2.7h-2.7zM645.6 107.0h2.7v2.7h-2.7zM619.8 111.3h2.7v2.7h-2.7zM619.8 119.9h2.7v2.7h-2.7zM637.0 119.9h2.7v2.7h-2.7zM645.6 119.9h2.7v2.7h-2.7zM632.7 124.2h2.7v2.7h-2.7zM654.2 124.2h2.7v2.7h-2.7zM619.8 128.5h2.7v2.7h-2.7zM632.7 128.5h2.7v2.7h-2.7zM619.8 132.8h2.7v2.7h-2.7zM624.1 132.8h2.7v2.7h-2.7zM628.4 132.8h2.7v2.7h-2.7zM637.0 132.8h2.7v2.7h-2.7z" fill="#7fabdc"></path><rect x="665" y="95" width="95" height="45" fill="#3b76b6"></rect><rect x="659.5" y="17" width="13.5" height="19.6" fill="#3b76b6"></rect><rect x="673" y="16" width="32.4" height="25" fill="#5b90c9"></rect><rect x="674" y="6.8" width="19.5" height="10.2" fill="#4881bf"></rect><rect x="654" y="36.6" width="17.4" height="103.4" fill="#5087c3"></rect><rect x="654" y="36.6" width="17.4" height="103.4" fill="url(#pv)"></rect><g transform="translate(0,41) skewX(-2.86) translate(0,-41)"><rect x="671.4" y="41" width="10.2" height="59" fill="#dcecfa"></rect><rect x="671.4" y="41" width="10.2" height="59" fill="url(#pv2)"></rect></g><polygon points="683,42 690,27 697,42" fill="#3b76b6"></polygon><rect x="679" y="42.5" width="29" height="97.5" fill="#3c75b4"></rect><path d="M685.8 45.5h2.7v2.7h-2.7zM690.1 45.5h2.7v2.7h-2.7zM703.0 45.5h2.7v2.7h-2.7zM681.5 49.8h2.7v2.7h-2.7zM703.0 54.1h2.7v2.7h-2.7zM681.5 58.4h2.7v2.7h-2.7zM703.0 58.4h2.7v2.7h-2.7zM690.1 62.7h2.7v2.7h-2.7zM698.7 62.7h2.7v2.7h-2.7zM694.4 67.0h2.7v2.7h-2.7zM698.7 67.0h2.7v2.7h-2.7zM703.0 67.0h2.7v2.7h-2.7zM694.4 75.6h2.7v2.7h-2.7zM698.7 79.9h2.7v2.7h-2.7zM685.8 84.2h2.7v2.7h-2.7zM681.5 88.5h2.7v2.7h-2.7zM703.0 88.5h2.7v2.7h-2.7zM685.8 92.8h2.7v2.7h-2.7zM698.7 92.8h2.7v2.7h-2.7zM681.5 97.1h2.7v2.7h-2.7zM685.8 101.4h2.7v2.7h-2.7zM685.8 110.0h2.7v2.7h-2.7zM690.1 110.0h2.7v2.7h-2.7zM685.8 114.3h2.7v2.7h-2.7zM694.4 114.3h2.7v2.7h-2.7zM694.4 118.6h2.7v2.7h-2.7zM698.7 118.6h2.7v2.7h-2.7zM681.5 122.9h2.7v2.7h-2.7zM694.4 127.2h2.7v2.7h-2.7zM698.7 131.5h2.7v2.7h-2.7zM685.8 135.8h2.7v2.7h-2.7zM694.4 135.8h2.7v2.7h-2.7z" fill="#d2e6f8"></path><path d="M681.5 45.5h2.7v2.7h-2.7zM694.4 45.5h2.7v2.7h-2.7zM685.8 49.8h2.7v2.7h-2.7zM690.1 49.8h2.7v2.7h-2.7zM694.4 49.8h2.7v2.7h-2.7zM703.0 49.8h2.7v2.7h-2.7zM681.5 54.1h2.7v2.7h-2.7zM681.5 62.7h2.7v2.7h-2.7zM685.8 67.0h2.7v2.7h-2.7zM703.0 75.6h2.7v2.7h-2.7zM681.5 79.9h2.7v2.7h-2.7zM685.8 79.9h2.7v2.7h-2.7zM681.5 84.2h2.7v2.7h-2.7zM694.4 84.2h2.7v2.7h-2.7zM690.1 88.5h2.7v2.7h-2.7zM694.4 88.5h2.7v2.7h-2.7zM690.1 92.8h2.7v2.7h-2.7zM703.0 92.8h2.7v2.7h-2.7zM685.8 97.1h2.7v2.7h-2.7zM681.5 101.4h2.7v2.7h-2.7zM690.1 101.4h2.7v2.7h-2.7zM681.5 105.7h2.7v2.7h-2.7zM703.0 110.0h2.7v2.7h-2.7zM681.5 114.3h2.7v2.7h-2.7zM690.1 118.6h2.7v2.7h-2.7zM685.8 122.9h2.7v2.7h-2.7zM681.5 127.2h2.7v2.7h-2.7zM685.8 127.2h2.7v2.7h-2.7zM698.7 127.2h2.7v2.7h-2.7zM681.5 131.5h2.7v2.7h-2.7zM685.8 131.5h2.7v2.7h-2.7zM690.1 131.5h2.7v2.7h-2.7zM694.4 131.5h2.7v2.7h-2.7zM703.0 131.5h2.7v2.7h-2.7zM681.5 135.8h2.7v2.7h-2.7zM698.7 135.8h2.7v2.7h-2.7z" fill="#a9cbee"></path><path d="M685.8 54.1h2.7v2.7h-2.7zM685.8 58.4h2.7v2.7h-2.7zM694.4 62.7h2.7v2.7h-2.7zM690.1 67.0h2.7v2.7h-2.7zM703.0 71.3h2.7v2.7h-2.7zM681.5 75.6h2.7v2.7h-2.7zM698.7 75.6h2.7v2.7h-2.7zM690.1 79.9h2.7v2.7h-2.7zM694.4 79.9h2.7v2.7h-2.7zM690.1 84.2h2.7v2.7h-2.7zM703.0 84.2h2.7v2.7h-2.7zM698.7 88.5h2.7v2.7h-2.7zM694.4 92.8h2.7v2.7h-2.7zM698.7 97.1h2.7v2.7h-2.7zM703.0 97.1h2.7v2.7h-2.7zM698.7 101.4h2.7v2.7h-2.7zM698.7 105.7h2.7v2.7h-2.7zM703.0 105.7h2.7v2.7h-2.7zM694.4 110.0h2.7v2.7h-2.7zM690.1 114.3h2.7v2.7h-2.7zM703.0 114.3h2.7v2.7h-2.7zM681.5 118.6h2.7v2.7h-2.7zM690.1 122.9h2.7v2.7h-2.7zM694.4 122.9h2.7v2.7h-2.7zM703.0 122.9h2.7v2.7h-2.7zM690.1 127.2h2.7v2.7h-2.7z" fill="#7fabdc"></path><g transform="translate(0,2) skewX(-4.57) translate(0,-2)"><rect x="720.7" y="0" width="11.1" height="4" fill="#3b76b6"></rect><rect x="708.8" y="2" width="29" height="148" fill="#3b76b6"></rect><rect x="722" y="12" width="2.6" height="2.6" fill="#6a9cd2"></rect><rect x="722" y="22" width="2.6" height="2.6" fill="#6a9cd2"></rect><rect x="722" y="32" width="2.6" height="2.6" fill="#6a9cd2"></rect><rect x="722" y="44" width="2.6" height="2.6" fill="#6a9cd2"></rect><rect x="722" y="56" width="2.6" height="2.6" fill="#6a9cd2"></rect><rect x="722" y="68" width="2.6" height="2.6" fill="#6a9cd2"></rect></g><rect x="714" y="78" width="24" height="62" fill="#3c75b4"></rect><path d="M720.8 81.0h2.7v2.7h-2.7zM733.7 81.0h2.7v2.7h-2.7zM733.7 85.3h2.7v2.7h-2.7zM729.4 93.9h2.7v2.7h-2.7zM716.5 98.2h2.7v2.7h-2.7zM729.4 98.2h2.7v2.7h-2.7zM725.1 102.5h2.7v2.7h-2.7zM729.4 106.8h2.7v2.7h-2.7zM725.1 115.4h2.7v2.7h-2.7zM720.8 119.7h2.7v2.7h-2.7zM729.4 119.7h2.7v2.7h-2.7zM716.5 124.0h2.7v2.7h-2.7zM716.5 128.3h2.7v2.7h-2.7zM720.8 128.3h2.7v2.7h-2.7zM725.1 128.3h2.7v2.7h-2.7zM733.7 128.3h2.7v2.7h-2.7z" fill="#a6c9ed"></path><path d="M725.1 81.0h2.7v2.7h-2.7zM716.5 85.3h2.7v2.7h-2.7zM720.8 85.3h2.7v2.7h-2.7zM725.1 85.3h2.7v2.7h-2.7zM729.4 85.3h2.7v2.7h-2.7zM720.8 93.9h2.7v2.7h-2.7zM725.1 93.9h2.7v2.7h-2.7zM733.7 93.9h2.7v2.7h-2.7zM720.8 98.2h2.7v2.7h-2.7zM733.7 98.2h2.7v2.7h-2.7zM729.4 102.5h2.7v2.7h-2.7zM725.1 106.8h2.7v2.7h-2.7zM733.7 106.8h2.7v2.7h-2.7zM716.5 111.1h2.7v2.7h-2.7zM729.4 111.1h2.7v2.7h-2.7zM733.7 111.1h2.7v2.7h-2.7zM716.5 115.4h2.7v2.7h-2.7zM733.7 115.4h2.7v2.7h-2.7zM720.8 124.0h2.7v2.7h-2.7zM725.1 124.0h2.7v2.7h-2.7zM720.8 132.6h2.7v2.7h-2.7zM733.7 132.6h2.7v2.7h-2.7z" fill="#7eaadb"></path><path d="M716.5 81.0h2.7v2.7h-2.7zM725.1 89.6h2.7v2.7h-2.7zM729.4 89.6h2.7v2.7h-2.7zM733.7 89.6h2.7v2.7h-2.7zM725.1 98.2h2.7v2.7h-2.7zM716.5 106.8h2.7v2.7h-2.7zM720.8 106.8h2.7v2.7h-2.7zM725.1 111.1h2.7v2.7h-2.7zM720.8 115.4h2.7v2.7h-2.7zM733.7 119.7h2.7v2.7h-2.7zM729.4 124.0h2.7v2.7h-2.7zM733.7 124.0h2.7v2.7h-2.7zM729.4 128.3h2.7v2.7h-2.7zM716.5 132.6h2.7v2.7h-2.7zM725.1 132.6h2.7v2.7h-2.7z" fill="#5f92ca"></path><polygon points="736,80 761.6,80 761.6,118 745,130 736,130" fill="#5087c3"></polygon><polygon points="736,80 761.6,80 761.6,118 745,130 736,130" fill="url(#pv)"></polygon><polygon points="760,95 762,92 771.5,92 771.5,140 760,140" fill="#3b76b6"></polygon><g transform="translate(0,57) skewX(-7.97) translate(0,-57)"><rect x="794.5" y="30.6" width="13.5" height="10.4" fill="#5b90c9"></rect><rect x="783" y="40" width="14" height="21" fill="#4881bf"></rect><rect x="797" y="40" width="18.5" height="21" fill="#5b90c9"></rect><rect x="780" y="57.4" width="35" height="92.6" fill="#5087c3"></rect><rect x="780" y="57.4" width="35" height="92.6" fill="url(#pv)"></rect></g><rect x="804" y="94" width="19" height="46" fill="#3b76b6"></rect><g transform="translate(0,61) skewX(-11.31) translate(0,-61)"><polygon points="833.7,61.3 841.4,57.4 876.8,57.4 876.8,63 890.2,74.7 890.2,150 833.7,150" fill="#3c75b4"></polygon><rect x="843.5" y="59" width="2.6" height="2.2" fill="#b3d3f1"></rect><rect x="848.1" y="59" width="2.6" height="2.2" fill="#b3d3f1"></rect><rect x="852.7" y="59" width="2.6" height="2.2" fill="#b3d3f1"></rect><rect x="857.3" y="59" width="2.6" height="2.2" fill="#b3d3f1"></rect><rect x="861.9" y="59" width="2.6" height="2.2" fill="#b3d3f1"></rect><rect x="866.5" y="59" width="2.6" height="2.2" fill="#b3d3f1"></rect><rect x="871.1" y="59" width="2.6" height="2.2" fill="#b3d3f1"></rect><rect x="836" y="66" width="26" height="84" fill="#3c75b4"></rect><rect x="836" y="66" width="26" height="84" fill="url(#ph)"></rect><rect x="864" y="66" width="25" height="84" fill="#5087c3"></rect><rect x="864" y="66" width="25" height="84" fill="url(#ph2)"></rect><rect x="850" y="62" width="-848.9" height="26" fill="#b3d3f1"></rect><rect x="862.5" y="62" width="-861.4" height="26" fill="#b3d3f1"></rect></g><polygon points="884.5,91 889.5,91 889.5,88 896,88 896,91 917,91 917,140 884.5,140" fill="#3b76b6"></polygon><rect x="900" y="100" width="2.6" height="2.6" fill="#6a9cd2"></rect><rect x="900" y="112" width="2.6" height="2.6" fill="#6a9cd2"></rect><rect x="900" y="124" width="2.6" height="2.6" fill="#6a9cd2"></rect><rect x="911" y="111" width="29" height="29" fill="#3c75b4"></rect><path d="M913.5 118.3h2.7v2.7h-2.7zM922.1 126.9h2.7v2.7h-2.7zM926.4 126.9h2.7v2.7h-2.7zM922.1 131.2h2.7v2.7h-2.7zM935.0 131.2h2.7v2.7h-2.7z" fill="#a6c9ed"></path><path d="M922.1 114.0h2.7v2.7h-2.7zM913.5 122.6h2.7v2.7h-2.7zM922.1 122.6h2.7v2.7h-2.7zM926.4 122.6h2.7v2.7h-2.7zM930.7 126.9h2.7v2.7h-2.7zM913.5 131.2h2.7v2.7h-2.7zM930.7 131.2h2.7v2.7h-2.7zM913.5 135.5h2.7v2.7h-2.7zM917.8 135.5h2.7v2.7h-2.7z" fill="#7eaadb"></path><path d="M913.5 114.0h2.7v2.7h-2.7zM917.8 114.0h2.7v2.7h-2.7zM935.0 114.0h2.7v2.7h-2.7zM917.8 118.3h2.7v2.7h-2.7zM922.1 118.3h2.7v2.7h-2.7zM926.4 118.3h2.7v2.7h-2.7zM935.0 118.3h2.7v2.7h-2.7zM917.8 122.6h2.7v2.7h-2.7zM913.5 126.9h2.7v2.7h-2.7zM917.8 126.9h2.7v2.7h-2.7zM935.0 126.9h2.7v2.7h-2.7zM917.8 131.2h2.7v2.7h-2.7zM926.4 135.5h2.7v2.7h-2.7zM935.0 135.5h2.7v2.7h-2.7z" fill="#5f92ca"></path><rect x="0" y="128" width="940" height="-115" fill="#3f78b7"></rect><circle cx="60" cy="135" r="7" fill="#6d9dd2" fill-opacity="0.45"></circle><circle cx="95" cy="133" r="6" fill="#6d9dd2" fill-opacity="0.45"></circle><circle cx="170" cy="134" r="7" fill="#6d9dd2" fill-opacity="0.45"></circle><circle cx="205" cy="132" r="6" fill="#6d9dd2" fill-opacity="0.45"></circle><circle cx="300" cy="135" r="7" fill="#6d9dd2" fill-opacity="0.45"></circle><circle cx="330" cy="133" r="7" fill="#6d9dd2" fill-opacity="0.45"></circle><circle cx="360" cy="135" r="6" fill="#6d9dd2" fill-opacity="0.45"></circle><circle cx="420" cy="132" r="8" fill="#6d9dd2" fill-opacity="0.45"></circle><circle cx="440" cy="130" r="7" fill="#6d9dd2" fill-opacity="0.45"></circle><circle cx="480" cy="133" r="6" fill="#6d9dd2" fill-opacity="0.45"></circle><circle cx="500" cy="131" r="7" fill="#6d9dd2" fill-opacity="0.45"></circle><circle cx="520" cy="135" r="6" fill="#6d9dd2" fill-opacity="0.45"></circle><circle cx="560" cy="133" r="7" fill="#6d9dd2" fill-opacity="0.45"></circle><circle cx="590" cy="135" r="6" fill="#6d9dd2" fill-opacity="0.45"></circle><circle cx="630" cy="132" r="8" fill="#6d9dd2" fill-opacity="0.45"></circle><circle cx="660" cy="136" r="6" fill="#6d9dd2" fill-opacity="0.45"></circle><circle cx="690" cy="133" r="7" fill="#6d9dd2" fill-opacity="0.45"></circle><circle cx="740" cy="135" r="6" fill="#6d9dd2" fill-opacity="0.45"></circle><circle cx="770" cy="131" r="8" fill="#6d9dd2" fill-opacity="0.45"></circle><circle cx="800" cy="135" r="6" fill="#6d9dd2" fill-opacity="0.45"></circle><circle cx="850" cy="133" r="7" fill="#6d9dd2" fill-opacity="0.45"></circle><circle cx="880" cy="136" r="6" fill="#6d9dd2" fill-opacity="0.45"></circle><circle cx="915" cy="134" r="6" fill="#6d9dd2" fill-opacity="0.45"></circle>
<rect x="0" y="140" width="940" height="124.5" fill="#2574b3"></rect>
<rect x="67" y="163" width="80" height="80" fill="url(#logog)"></rect>
<text x="81.8" y="215.6" text-anchor="middle" transform="translate(81.8,0) scale(0.9,1) translate(-81.8,0)" style="font-size:37px;font-weight:600;fill:#fff;stroke:#fff;stroke-width:4.2;stroke-linejoin:round;">Т</text>
<text x="81.8" y="215.6" text-anchor="middle" transform="translate(81.8,0) scale(0.9,1) translate(-81.8,0)" style="font-size:37px;font-weight:600;fill:#fff;stroke:#c8141c;stroke-width:1.8;stroke-linejoin:round;">Т</text>
<text x="81.8" y="215.6" text-anchor="middle" transform="translate(81.8,0) scale(0.9,1) translate(-81.8,0)" style="font-size:37px;font-weight:600;fill:#fff;">Т</text>
<text x="105.3" y="215.6" text-anchor="middle" transform="translate(105.3,0) scale(0.9,1) translate(-105.3,0)" style="font-size:37px;font-weight:600;fill:#fff;stroke:#fff;stroke-width:4.2;stroke-linejoin:round;">С</text>
<text x="105.3" y="215.6" text-anchor="middle" transform="translate(105.3,0) scale(0.9,1) translate(-105.3,0)" style="font-size:37px;font-weight:600;fill:#fff;stroke:#c8141c;stroke-width:1.8;stroke-linejoin:round;">С</text>
<text x="105.3" y="215.6" text-anchor="middle" transform="translate(105.3,0) scale(0.9,1) translate(-105.3,0)" style="font-size:37px;font-weight:600;fill:#fff;">С</text>
<text x="131.8" y="215.6" text-anchor="middle" transform="translate(131.8,0) scale(0.9,1) translate(-131.8,0)" style="font-size:37px;font-weight:600;fill:#fff;stroke:#fff;stroke-width:4.2;stroke-linejoin:round;">Н</text>
<text x="131.8" y="215.6" text-anchor="middle" transform="translate(131.8,0) scale(0.9,1) translate(-131.8,0)" style="font-size:37px;font-weight:600;fill:#fff;stroke:#c8141c;stroke-width:1.8;stroke-linejoin:round;">Н</text>
<text x="131.8" y="215.6" text-anchor="middle" transform="translate(131.8,0) scale(0.9,1) translate(-131.8,0)" style="font-size:37px;font-weight:600;fill:#fff;">Н</text>
<text x="168.5" y="191.8" class="t1" textLength="437.5938" lengthAdjust="spacing">ТОП-20 МІСТ ЄВРОПИ</text>
<text x="168.5" y="242.2" class="t1" textLength="714.0000" lengthAdjust="spacing">ІЗ НАЙДОРОЖЧОЮ НЕРУХОМІСТЮ</text>
<text x="138.6" y="309" class="yr" text-anchor="middle" fill="#e5121b" textLength="47.5000" lengthAdjust="spacing">2018</text>
<text x="388.6" y="309" class="yr" text-anchor="middle" fill="#7a7f85" textLength="47.5000" lengthAdjust="spacing">2017</text>
<rect x="115.1" y="313.7" width="47" height="1.6" fill="#121a26"></rect>
<text x="137.8" y="329.7" class="rik" text-anchor="middle" textLength="24.9688" lengthAdjust="spacing">рік</text>
<rect x="365.1" y="313.7" width="47" height="1.6" fill="#121a26"></rect>
<text x="387.8" y="329.7" class="rik" text-anchor="middle" textLength="24.9688" lengthAdjust="spacing">рік</text>
<text x="568.6" y="309" class="yr" text-anchor="middle" fill="#e5121b" textLength="47.5000" lengthAdjust="spacing">2018</text>
<text x="818" y="309" class="yr" text-anchor="middle" fill="#7a7f85" textLength="47.5000" lengthAdjust="spacing">2017</text>
<rect x="545.1" y="313.7" width="47" height="1.6" fill="#121a26"></rect>
<text x="567.8" y="329.7" class="rik" text-anchor="middle" textLength="24.9688" lengthAdjust="spacing">рік</text>
<rect x="794.5" y="313.7" width="47" height="1.6" fill="#121a26"></rect>
<text x="817.2" y="329.7" class="rik" text-anchor="middle" textLength="24.9688" lengthAdjust="spacing">рік</text>
<line x1="481" y1="339" x2="481" y2="1056" stroke="#7e8c98" stroke-width="1.6" stroke-dasharray="8 4"></line>
<rect x="98.5" y="700.4" width="325.5" height="69.6" rx="9" fill="#9ac6e9"></rect>
<rect x="114.35" y="342.60" width="45.3" height="44.6" rx="11" fill="#f6f3f2" filter="url(#bsh)"></rect><rect x="117.10" y="344.30" width="39.8" height="39.8" rx="8.5" fill="#fa0303"></rect><text x="137.40" y="372.20" class="bn" text-anchor="middle">1</text>
<text x="193.0" y="360.9" class="city" textLength="84.6094" lengthAdjust="spacing">Лондон</text><svg x="191.8" y="369.9" width="20.2" height="14" viewBox="0 0 30 20" preserveAspectRatio="none"><rect width="30" height="20" fill="#27337a"></rect><path d="M0,0 L30,20 M30,0 L0,20" stroke="#fff" stroke-width="4"></path><path d="M0,0 L30,20 M30,0 L0,20" stroke="#d0242f" stroke-width="1.1"></path><path d="M15,0 V20 M0,10 H30" stroke="#fff" stroke-width="5.5"></path><path d="M15,0 V20 M0,10 H30" stroke="#c8202a" stroke-width="2.6"></path><rect width="30" height="20" fill="url(#flagshade)"></rect><rect x="0.4" y="0.4" width="29.2" height="19.2" fill="none" stroke="rgba(60,60,80,0.45)" stroke-width="0.8"></rect></svg><text transform="translate(218.3,382.7) scale(1.08,1)" class="ctry" textLength="125.6733" lengthAdjust="spacing">Велика Британія</text>
<rect x="363.65" y="342.60" width="45.3" height="44.6" rx="11" fill="#f6f3f2" filter="url(#bsh)"></rect><rect x="366.40" y="344.30" width="39.8" height="39.8" rx="8.5" fill="#868484"></rect><text x="386.70" y="372.20" class="bn" text-anchor="middle">1</text>
<rect x="114.35" y="417.00" width="45.3" height="44.6" rx="11" fill="#f6f3f2" filter="url(#bsh)"></rect><rect x="117.10" y="418.70" width="39.8" height="39.8" rx="8.5" fill="#fa0303"></rect><text x="137.40" y="446.60" class="bn" text-anchor="middle">2</text>
<text x="193.0" y="435.3" class="city" textLength="82.0313" lengthAdjust="spacing">Москва</text><svg x="191.8" y="444.3" width="20.2" height="14" viewBox="0 0 30 20" preserveAspectRatio="none"><rect width="30" height="7" fill="#fff"></rect><rect y="6.7" width="30" height="6.7" fill="#2b4fb8"></rect><rect y="13.3" width="30" height="6.7" fill="#e0202a"></rect><rect width="30" height="20" fill="url(#flagshade)"></rect><rect x="0.4" y="0.4" width="29.2" height="19.2" fill="none" stroke="rgba(60,60,80,0.45)" stroke-width="0.8"></rect></svg><text transform="translate(218.3,457.1) scale(1.08,1)" class="ctry" textLength="39.4240" lengthAdjust="spacing">Росія</text>
<rect x="363.65" y="417.00" width="45.3" height="44.6" rx="11" fill="#f6f3f2" filter="url(#bsh)"></rect><rect x="366.40" y="418.70" width="39.8" height="39.8" rx="8.5" fill="#868484"></rect><text x="386.70" y="446.60" class="bn" text-anchor="middle">2</text>
<rect x="114.35" y="491.60" width="45.3" height="44.6" rx="11" fill="#f6f3f2" filter="url(#bsh)"></rect><rect x="117.10" y="493.30" width="39.8" height="39.8" rx="8.5" fill="#fa0303"></rect><text x="137.40" y="521.20" class="bn" text-anchor="middle">3</text>
<text x="193.0" y="509.9" class="city" textLength="74.4063" lengthAdjust="spacing">Цюрих</text><svg x="191.8" y="518.9" width="20.2" height="14" viewBox="0 0 30 20" preserveAspectRatio="none"><rect width="30" height="20" fill="#e21a22"></rect><rect x="12.5" y="3.5" width="5" height="13" fill="#fff"></rect><rect x="8.5" y="7.5" width="13" height="5" fill="#fff"></rect><rect width="30" height="20" fill="url(#flagshade)"></rect><rect x="0.4" y="0.4" width="29.2" height="19.2" fill="none" stroke="rgba(60,60,80,0.45)" stroke-width="0.8"></rect></svg><text transform="translate(218.3,531.7) scale(1.08,1)" class="ctry" textLength="83.0666" lengthAdjust="spacing">Швейцарія</text>
<rect x="363.65" y="491.60" width="45.3" height="44.6" rx="11" fill="#f6f3f2" filter="url(#bsh)"></rect><rect x="366.40" y="493.30" width="39.8" height="39.8" rx="8.5" fill="#868484"></rect><text x="386.70" y="521.20" class="bn" text-anchor="middle">3</text>
<rect x="114.35" y="564.60" width="45.3" height="44.6" rx="11" fill="#f6f3f2" filter="url(#bsh)"></rect><rect x="117.10" y="566.30" width="39.8" height="39.8" rx="8.5" fill="#2673bb"></rect><text x="137.40" y="594.20" class="bn" text-anchor="middle">4</text>
<text x="193.0" y="582.9" class="city" textLength="84.4844" lengthAdjust="spacing">Женева</text><svg x="191.8" y="591.9" width="20.2" height="14" viewBox="0 0 30 20" preserveAspectRatio="none"><rect width="30" height="20" fill="#e21a22"></rect><rect x="12.5" y="3.5" width="5" height="13" fill="#fff"></rect><rect x="8.5" y="7.5" width="13" height="5" fill="#fff"></rect><rect width="30" height="20" fill="url(#flagshade)"></rect><rect x="0.4" y="0.4" width="29.2" height="19.2" fill="none" stroke="rgba(60,60,80,0.45)" stroke-width="0.8"></rect></svg><text transform="translate(218.3,604.7) scale(1.08,1)" class="ctry" textLength="83.0666" lengthAdjust="spacing">Швейцарія</text>
<rect x="363.65" y="564.60" width="45.3" height="44.6" rx="11" fill="#f6f3f2" filter="url(#bsh)"></rect><rect x="366.40" y="566.30" width="39.8" height="39.8" rx="8.5" fill="#868484"></rect><text x="386.70" y="594.20" class="bn" text-anchor="middle">4</text>
<rect x="114.35" y="637.60" width="45.3" height="44.6" rx="11" fill="#f6f3f2" filter="url(#bsh)"></rect><rect x="117.10" y="639.30" width="39.8" height="39.8" rx="8.5" fill="#2673bb"></rect><text x="137.40" y="667.20" class="bn" text-anchor="middle">5</text>
<text x="193.0" y="655.9" class="city" textLength="92.3906" lengthAdjust="spacing">Стамбул</text><svg x="191.8" y="664.9" width="20.2" height="14" viewBox="0 0 30 20" preserveAspectRatio="none"><rect width="30" height="20" fill="#e31c24"></rect><circle cx="11.5" cy="10" r="5" fill="#fff"></circle><circle cx="12.8" cy="10" r="4" fill="#e31c24"></circle><path d="M17.2,10 l3.6,-1.3 -2.2,3.1 0,-3.6 2.2,3.1z" fill="#fff"></path><rect width="30" height="20" fill="url(#flagshade)"></rect><rect x="0.4" y="0.4" width="29.2" height="19.2" fill="none" stroke="rgba(60,60,80,0.45)" stroke-width="0.8"></rect></svg><text transform="translate(218.3,677.7) scale(1.08,1)" class="ctry" textLength="79.5085" lengthAdjust="spacing">Туреччина</text>
<rect x="363.65" y="637.60" width="45.3" height="44.6" rx="11" fill="#f6f3f2" filter="url(#bsh)"></rect><rect x="366.40" y="639.30" width="39.8" height="39.8" rx="8.5" fill="#868484"></rect><text x="386.70" y="667.20" class="bn" text-anchor="middle">5</text>
<rect x="114.35" y="711.60" width="45.3" height="44.6" rx="11" fill="#c2d8ed" filter="url(#bsh)"></rect><rect x="117.10" y="713.30" width="39.8" height="39.8" rx="8.5" fill="#2673bb"></rect><text x="137.40" y="741.20" class="bn" text-anchor="middle">6</text>
<text x="193.0" y="729.9" class="city" textLength="47.6719" lengthAdjust="spacing">Київ</text><svg x="191.8" y="738.9" width="20.2" height="14" viewBox="0 0 30 20" preserveAspectRatio="none"><rect width="30" height="10" fill="#3a78c8"></rect><rect y="10" width="30" height="10" fill="#f5e21a"></rect><rect width="30" height="20" fill="url(#flagshade)"></rect><rect x="0.4" y="0.4" width="29.2" height="19.2" fill="none" stroke="rgba(60,60,80,0.45)" stroke-width="0.8"></rect></svg><text transform="translate(218.3,751.7) scale(1.08,1)" class="ctry" textLength="57.3194" lengthAdjust="spacing">Україна</text>
<rect x="363.65" y="711.60" width="45.3" height="44.6" rx="11" fill="#c2d8ed" filter="url(#bsh)"></rect><rect x="366.40" y="713.30" width="39.8" height="39.8" rx="8.5" fill="#868484"></rect><text x="386.70" y="741.20" class="bn" text-anchor="middle">8</text>
<rect x="114.35" y="786.40" width="45.3" height="44.6" rx="11" fill="#f6f3f2" filter="url(#bsh)"></rect><rect x="117.10" y="788.10" width="39.8" height="39.8" rx="8.5" fill="#2673bb"></rect><text x="137.40" y="816.00" class="bn" text-anchor="middle">7</text>
<text x="193.0" y="804.7" class="city" textLength="73.0156" lengthAdjust="spacing">Париж</text><svg x="191.8" y="813.7" width="20.2" height="14" viewBox="0 0 30 20" preserveAspectRatio="none"><rect width="10" height="20" fill="#24389a"></rect><rect x="10" width="10" height="20" fill="#fff"></rect><rect x="20" width="10" height="20" fill="#e8202a"></rect><rect width="30" height="20" fill="url(#flagshade)"></rect><rect x="0.4" y="0.4" width="29.2" height="19.2" fill="none" stroke="rgba(60,60,80,0.45)" stroke-width="0.8"></rect></svg><text transform="translate(218.3,826.5) scale(1.08,1)" class="ctry" textLength="63.0393" lengthAdjust="spacing">Франція</text>
<rect x="363.65" y="786.40" width="45.3" height="44.6" rx="11" fill="#f6f3f2" filter="url(#bsh)"></rect><rect x="366.40" y="788.10" width="39.8" height="39.8" rx="8.5" fill="#868484"></rect><text x="386.70" y="816.00" class="bn" text-anchor="middle">6</text>
<rect x="114.35" y="859.60" width="45.3" height="44.6" rx="11" fill="#f6f3f2" filter="url(#bsh)"></rect><rect x="117.10" y="861.30" width="39.8" height="39.8" rx="8.5" fill="#2673bb"></rect><text x="137.40" y="889.20" class="bn" text-anchor="middle">8</text>
<text x="193.0" y="877.9" class="city" textLength="76.0781" lengthAdjust="spacing">Дублін</text><svg x="191.8" y="886.9" width="20.2" height="14" viewBox="0 0 30 20" preserveAspectRatio="none"><rect width="10" height="20" fill="#2a9a48"></rect><rect x="10" width="10" height="20" fill="#fff"></rect><rect x="20" width="10" height="20" fill="#f08a24"></rect><rect width="30" height="20" fill="url(#flagshade)"></rect><rect x="0.4" y="0.4" width="29.2" height="19.2" fill="none" stroke="rgba(60,60,80,0.45)" stroke-width="0.8"></rect></svg><text transform="translate(218.3,899.7) scale(1.08,1)" class="ctry" textLength="63.6849" lengthAdjust="spacing">Ірландія</text>
<rect x="363.65" y="859.60" width="45.3" height="44.6" rx="11" fill="#f6f3f2" filter="url(#bsh)"></rect><rect x="366.40" y="861.30" width="39.8" height="39.8" rx="8.5" fill="#868484"></rect><text x="386.70" y="889.20" class="bn" text-anchor="middle" textLength="26.9844" lengthAdjust="spacing">11</text>
<rect x="114.35" y="933.60" width="45.3" height="44.6" rx="11" fill="#f6f3f2" filter="url(#bsh)"></rect><rect x="117.10" y="935.30" width="39.8" height="39.8" rx="8.5" fill="#2673bb"></rect><text x="137.40" y="963.20" class="bn" text-anchor="middle">9</text>
<text x="193.0" y="951.9" class="city" textLength="123.7500" lengthAdjust="spacing">Амстердам</text><svg x="191.8" y="960.9" width="20.2" height="14" viewBox="0 0 30 20" preserveAspectRatio="none"><rect width="30" height="7" fill="#c8202a"></rect><rect y="6.7" width="30" height="6.7" fill="#fff"></rect><rect y="13.3" width="30" height="6.7" fill="#2b4a98"></rect><rect width="30" height="20" fill="url(#flagshade)"></rect><rect x="0.4" y="0.4" width="29.2" height="19.2" fill="none" stroke="rgba(60,60,80,0.45)" stroke-width="0.8"></rect></svg><text transform="translate(218.3,973.7) scale(1.08,1)" class="ctry" textLength="89.7924" lengthAdjust="spacing">Нідерланди</text>
<rect x="363.65" y="933.60" width="45.3" height="44.6" rx="11" fill="#f6f3f2" filter="url(#bsh)"></rect><rect x="366.40" y="935.30" width="39.8" height="39.8" rx="8.5" fill="#868484"></rect><text x="386.70" y="963.20" class="bn" text-anchor="middle" textLength="26.9844" lengthAdjust="spacing">10</text>
<rect x="114.35" y="1008.20" width="45.3" height="44.6" rx="11" fill="#f6f3f2" filter="url(#bsh)"></rect><rect x="117.10" y="1009.90" width="39.8" height="39.8" rx="8.5" fill="#2673bb"></rect><text x="137.40" y="1037.80" class="bn" text-anchor="middle" textLength="26.9844" lengthAdjust="spacing">10</text>
<text x="193.0" y="1026.5" class="city" textLength="117.1406" lengthAdjust="spacing">Стокгольм</text><svg x="191.8" y="1035.5" width="20.2" height="14" viewBox="0 0 30 20" preserveAspectRatio="none"><rect width="30" height="20" fill="#2a62a8"></rect><rect x="8" width="4" height="20" fill="#f5d21a"></rect><rect y="8" width="30" height="4" fill="#f5d21a"></rect><rect width="30" height="20" fill="url(#flagshade)"></rect><rect x="0.4" y="0.4" width="29.2" height="19.2" fill="none" stroke="rgba(60,60,80,0.45)" stroke-width="0.8"></rect></svg><text transform="translate(218.3,1048.3) scale(1.08,1)" class="ctry" textLength="55.8331" lengthAdjust="spacing">Швеція</text>
<rect x="363.65" y="1008.20" width="45.3" height="44.6" rx="11" fill="#f6f3f2" filter="url(#bsh)"></rect><rect x="366.40" y="1009.90" width="39.8" height="39.8" rx="8.5" fill="#868484"></rect><text x="386.70" y="1037.80" class="bn" text-anchor="middle">7</text>
<rect x="547.35" y="342.60" width="45.3" height="44.6" rx="11" fill="#f6f3f2" filter="url(#bsh)"></rect><rect x="550.10" y="344.30" width="39.8" height="39.8" rx="8.5" fill="#2673bb"></rect><text x="570.40" y="372.20" class="bn" text-anchor="middle" textLength="26.9844" lengthAdjust="spacing">11</text>
<text x="626.4" y="360.9" class="city" textLength="136.2813" lengthAdjust="spacing">Люксембург</text><svg x="625.2" y="369.9" width="20.2" height="14" viewBox="0 0 30 20" preserveAspectRatio="none"><rect width="30" height="7" fill="#e8353a"></rect><rect y="6.7" width="30" height="6.7" fill="#fff"></rect><rect y="13.3" width="30" height="6.7" fill="#3a9ad8"></rect><rect width="30" height="20" fill="url(#flagshade)"></rect><rect x="0.4" y="0.4" width="29.2" height="19.2" fill="none" stroke="rgba(60,60,80,0.45)" stroke-width="0.8"></rect></svg><text transform="translate(651.7,382.7) scale(1.08,1)" class="ctry" textLength="94.0861" lengthAdjust="spacing">Люксембург</text>
<rect x="797.45" y="342.60" width="45.3" height="44.6" rx="11" fill="#f6f3f2" filter="url(#bsh)"></rect><rect x="800.20" y="344.30" width="39.8" height="39.8" rx="8.5" fill="#868484"></rect><text x="820.50" y="372.20" class="bn" text-anchor="middle">9</text>
<rect x="547.35" y="417.00" width="45.3" height="44.6" rx="11" fill="#f6f3f2" filter="url(#bsh)"></rect><rect x="550.10" y="418.70" width="39.8" height="39.8" rx="8.5" fill="#2673bb"></rect><text x="570.40" y="446.60" class="bn" text-anchor="middle" textLength="26.9844" lengthAdjust="spacing">12</text>
<text x="626.4" y="435.3" class="city" textLength="125.6094" lengthAdjust="spacing">Копенгаген</text><svg x="625.2" y="444.3" width="20.2" height="14" viewBox="0 0 30 20" preserveAspectRatio="none"><rect width="30" height="20" fill="#d8202c"></rect><rect x="8" width="4" height="20" fill="#fff"></rect><rect y="8" width="30" height="4" fill="#fff"></rect><rect width="30" height="20" fill="url(#flagshade)"></rect><rect x="0.4" y="0.4" width="29.2" height="19.2" fill="none" stroke="rgba(60,60,80,0.45)" stroke-width="0.8"></rect></svg><text transform="translate(651.7,457.1) scale(1.08,1)" class="ctry" textLength="42.2614" lengthAdjust="spacing">Данія</text>
<rect x="797.45" y="417.00" width="45.3" height="44.6" rx="11" fill="#f6f3f2" filter="url(#bsh)"></rect><rect x="800.20" y="418.70" width="39.8" height="39.8" rx="8.5" fill="#868484"></rect><text x="820.50" y="446.60" class="bn" text-anchor="middle" textLength="26.9844" lengthAdjust="spacing">12</text>
<rect x="547.35" y="491.60" width="45.3" height="44.6" rx="11" fill="#f6f3f2" filter="url(#bsh)"></rect><rect x="550.10" y="493.30" width="39.8" height="39.8" rx="8.5" fill="#2673bb"></rect><text x="570.40" y="521.20" class="bn" text-anchor="middle" textLength="26.9844" lengthAdjust="spacing">13</text>
<text x="626.4" y="497.2" class="city" textLength="70.7188" lengthAdjust="spacing">Санкт-</text><text x="626.4" y="517.7" class="city" textLength="114.9688" lengthAdjust="spacing">Петербург</text><svg x="625.2" y="529.4" width="20.2" height="14" viewBox="0 0 30 20" preserveAspectRatio="none"><rect width="30" height="7" fill="#fff"></rect><rect y="6.7" width="30" height="6.7" fill="#2b4fb8"></rect><rect y="13.3" width="30" height="6.7" fill="#e0202a"></rect><rect width="30" height="20" fill="url(#flagshade)"></rect><rect x="0.4" y="0.4" width="29.2" height="19.2" fill="none" stroke="rgba(60,60,80,0.45)" stroke-width="0.8"></rect></svg><text transform="translate(651.7,542.2) scale(1.08,1)" class="ctry" textLength="39.4240" lengthAdjust="spacing">Росія</text>
<rect x="797.45" y="491.60" width="45.3" height="44.6" rx="11" fill="#f6f3f2" filter="url(#bsh)"></rect><rect x="800.20" y="493.30" width="39.8" height="39.8" rx="8.5" fill="#868484"></rect><text x="820.50" y="521.20" class="bn" text-anchor="middle" textLength="26.9844" lengthAdjust="spacing">13</text>
<rect x="547.35" y="564.60" width="45.3" height="44.6" rx="11" fill="#f6f3f2" filter="url(#bsh)"></rect><rect x="550.10" y="566.30" width="39.8" height="39.8" rx="8.5" fill="#2673bb"></rect><text x="570.40" y="594.20" class="bn" text-anchor="middle" textLength="26.9844" lengthAdjust="spacing">14</text>
<text x="626.4" y="582.9" class="city" textLength="56.2813" lengthAdjust="spacing">Осло</text><svg x="625.2" y="591.9" width="20.2" height="14" viewBox="0 0 30 20" preserveAspectRatio="none"><rect width="30" height="20" fill="#d0202c"></rect><rect x="7" width="6" height="20" fill="#fff"></rect><rect y="7" width="30" height="6" fill="#fff"></rect><rect x="8.5" width="3" height="20" fill="#1f3a8a"></rect><rect y="8.5" width="30" height="3" fill="#1f3a8a"></rect><rect width="30" height="20" fill="url(#flagshade)"></rect><rect x="0.4" y="0.4" width="29.2" height="19.2" fill="none" stroke="rgba(60,60,80,0.45)" stroke-width="0.8"></rect></svg><text transform="translate(651.7,604.7) scale(1.08,1)" class="ctry" textLength="67.4681" lengthAdjust="spacing">Норвегія</text>
<rect x="797.45" y="564.60" width="45.3" height="44.6" rx="11" fill="#f6f3f2" filter="url(#bsh)"></rect><rect x="800.20" y="566.30" width="39.8" height="39.8" rx="8.5" fill="#868484"></rect><text x="820.50" y="594.20" class="bn" text-anchor="middle" textLength="26.9844" lengthAdjust="spacing">16</text>
<rect x="547.35" y="637.60" width="45.3" height="44.6" rx="11" fill="#f6f3f2" filter="url(#bsh)"></rect><rect x="550.10" y="639.30" width="39.8" height="39.8" rx="8.5" fill="#2673bb"></rect><text x="570.40" y="667.20" class="bn" text-anchor="middle" textLength="26.9844" lengthAdjust="spacing">15</text>
<text x="626.4" y="655.9" class="city" textLength="56.8438" lengthAdjust="spacing">Гаага</text><svg x="625.2" y="664.9" width="20.2" height="14" viewBox="0 0 30 20" preserveAspectRatio="none"><rect width="30" height="7" fill="#c8202a"></rect><rect y="6.7" width="30" height="6.7" fill="#fff"></rect><rect y="13.3" width="30" height="6.7" fill="#2b4a98"></rect><rect width="30" height="20" fill="url(#flagshade)"></rect><rect x="0.4" y="0.4" width="29.2" height="19.2" fill="none" stroke="rgba(60,60,80,0.45)" stroke-width="0.8"></rect></svg><text transform="translate(651.7,677.7) scale(1.08,1)" class="ctry" textLength="89.7924" lengthAdjust="spacing">Нідерланди</text>
<rect x="797.45" y="637.60" width="45.3" height="44.6" rx="11" fill="#f6f3f2" filter="url(#bsh)"></rect><rect x="800.20" y="639.30" width="39.8" height="39.8" rx="8.5" fill="#868484"></rect><text x="820.50" y="667.20" class="bn" text-anchor="middle" textLength="26.9844" lengthAdjust="spacing">15</text>
<rect x="547.35" y="711.60" width="45.3" height="44.6" rx="11" fill="#f6f3f2" filter="url(#bsh)"></rect><rect x="550.10" y="713.30" width="39.8" height="39.8" rx="8.5" fill="#2673bb"></rect><text x="570.40" y="741.20" class="bn" text-anchor="middle" textLength="26.9844" lengthAdjust="spacing">16</text>
<text x="626.4" y="729.9" class="city" textLength="44.5313" lengthAdjust="spacing">Рим</text><svg x="625.2" y="738.9" width="20.2" height="14" viewBox="0 0 30 20" preserveAspectRatio="none"><rect width="10" height="20" fill="#2a9a48"></rect><rect x="10" width="10" height="20" fill="#fff"></rect><rect x="20" width="10" height="20" fill="#d8202a"></rect><rect width="30" height="20" fill="url(#flagshade)"></rect><rect x="0.4" y="0.4" width="29.2" height="19.2" fill="none" stroke="rgba(60,60,80,0.45)" stroke-width="0.8"></rect></svg><text transform="translate(651.7,751.7) scale(1.08,1)" class="ctry" textLength="42.7719" lengthAdjust="spacing">Італія</text>
<rect x="797.45" y="711.60" width="45.3" height="44.6" rx="11" fill="#f6f3f2" filter="url(#bsh)"></rect><rect x="800.20" y="713.30" width="39.8" height="39.8" rx="8.5" fill="#868484"></rect><text x="820.50" y="741.20" class="bn" text-anchor="middle" textLength="26.9844" lengthAdjust="spacing">14</text>
<rect x="547.35" y="786.40" width="45.3" height="44.6" rx="11" fill="#f6f3f2" filter="url(#bsh)"></rect><rect x="550.10" y="788.10" width="39.8" height="39.8" rx="8.5" fill="#2673bb"></rect><text x="570.40" y="816.00" class="bn" text-anchor="middle" textLength="26.9844" lengthAdjust="spacing">17</text>
<text x="626.4" y="804.7" class="city" textLength="63.7500" lengthAdjust="spacing">Прага</text><svg x="625.2" y="813.7" width="20.2" height="14" viewBox="0 0 30 20" preserveAspectRatio="none"><rect width="30" height="10" fill="#fff"></rect><rect y="10" width="30" height="10" fill="#d8202a"></rect><path d="M0,0 L15,10 L0,20z" fill="#1f4a98"></path><rect width="30" height="20" fill="url(#flagshade)"></rect><rect x="0.4" y="0.4" width="29.2" height="19.2" fill="none" stroke="rgba(60,60,80,0.45)" stroke-width="0.8"></rect></svg><text transform="translate(651.7,826.5) scale(1.08,1)" class="ctry" textLength="40.1296" lengthAdjust="spacing">Чехія</text>
<rect x="797.45" y="786.40" width="45.3" height="44.6" rx="11" fill="#f6f3f2" filter="url(#bsh)"></rect><rect x="800.20" y="788.10" width="39.8" height="39.8" rx="8.5" fill="#868484"></rect><text x="820.50" y="816.00" class="bn" text-anchor="middle" textLength="26.9844" lengthAdjust="spacing">30</text>
<rect x="547.35" y="859.60" width="45.3" height="44.6" rx="11" fill="#f6f3f2" filter="url(#bsh)"></rect><rect x="550.10" y="861.30" width="39.8" height="39.8" rx="8.5" fill="#2673bb"></rect><text x="570.40" y="889.20" class="bn" text-anchor="middle" textLength="26.9844" lengthAdjust="spacing">18</text>
<text x="626.4" y="877.9" class="city" textLength="76.7500" lengthAdjust="spacing">Базель</text><svg x="625.2" y="886.9" width="20.2" height="14" viewBox="0 0 30 20" preserveAspectRatio="none"><rect width="30" height="20" fill="#e21a22"></rect><rect x="12.5" y="3.5" width="5" height="13" fill="#fff"></rect><rect x="8.5" y="7.5" width="13" height="5" fill="#fff"></rect><rect width="30" height="20" fill="url(#flagshade)"></rect><rect x="0.4" y="0.4" width="29.2" height="19.2" fill="none" stroke="rgba(60,60,80,0.45)" stroke-width="0.8"></rect></svg><text transform="translate(651.7,899.7) scale(1.08,1)" class="ctry" textLength="83.0666" lengthAdjust="spacing">Швейцарія</text>
<rect x="797.45" y="859.60" width="45.3" height="44.6" rx="11" fill="#f6f3f2" filter="url(#bsh)"></rect><rect x="800.20" y="861.30" width="39.8" height="39.8" rx="8.5" fill="#868484"></rect><text x="820.50" y="889.20" class="bn" text-anchor="middle" textLength="26.9844" lengthAdjust="spacing">18</text>
<rect x="547.35" y="933.60" width="45.3" height="44.6" rx="11" fill="#f6f3f2" filter="url(#bsh)"></rect><rect x="550.10" y="935.30" width="39.8" height="39.8" rx="8.5" fill="#2673bb"></rect><text x="570.40" y="963.20" class="bn" text-anchor="middle" textLength="26.9844" lengthAdjust="spacing">19</text>
<text x="626.4" y="951.9" class="city" textLength="73.9688" lengthAdjust="spacing">Відень</text><svg x="625.2" y="960.9" width="20.2" height="14" viewBox="0 0 30 20" preserveAspectRatio="none"><rect width="30" height="20" fill="#e0202a"></rect><rect y="6.7" width="30" height="6.7" fill="#fff"></rect><rect width="30" height="20" fill="url(#flagshade)"></rect><rect x="0.4" y="0.4" width="29.2" height="19.2" fill="none" stroke="rgba(60,60,80,0.45)" stroke-width="0.8"></rect></svg><text transform="translate(651.7,973.7) scale(1.08,1)" class="ctry" textLength="57.1392" lengthAdjust="spacing">Австрія</text>
<rect x="797.45" y="933.60" width="45.3" height="44.6" rx="11" fill="#f6f3f2" filter="url(#bsh)"></rect><rect x="800.20" y="935.30" width="39.8" height="39.8" rx="8.5" fill="#868484"></rect><text x="820.50" y="963.20" class="bn" text-anchor="middle" textLength="26.9844" lengthAdjust="spacing">17</text>
<rect x="547.35" y="1008.20" width="45.3" height="44.6" rx="11" fill="#f6f3f2" filter="url(#bsh)"></rect><rect x="550.10" y="1009.90" width="39.8" height="39.8" rx="8.5" fill="#2673bb"></rect><text x="570.40" y="1037.80" class="bn" text-anchor="middle" textLength="26.9844" lengthAdjust="spacing">20</text>
<text x="626.4" y="1026.5" class="city" textLength="96.5313" lengthAdjust="spacing">Варшава</text><svg x="625.2" y="1035.5" width="20.2" height="14" viewBox="0 0 30 20" preserveAspectRatio="none"><rect width="30" height="10" fill="#fff"></rect><rect y="10" width="30" height="10" fill="#e0202a"></rect><rect width="30" height="20" fill="url(#flagshade)"></rect><rect x="0.4" y="0.4" width="29.2" height="19.2" fill="none" stroke="rgba(60,60,80,0.45)" stroke-width="0.8"></rect></svg><text transform="translate(651.7,1048.3) scale(1.08,1)" class="ctry" textLength="60.0668" lengthAdjust="spacing">Польща</text>
<rect x="797.45" y="1008.20" width="45.3" height="44.6" rx="11" fill="#f6f3f2" filter="url(#bsh)"></rect><rect x="800.20" y="1009.90" width="39.8" height="39.8" rx="8.5" fill="#868484"></rect><text x="820.50" y="1037.80" class="bn" text-anchor="middle" textLength="26.9844" lengthAdjust="spacing">31</text>
<rect x="0" y="1094" width="940" height="96" fill="#2574b3"></rect>
<text x="471" y="1135.3" class="t2" text-anchor="middle" textLength="666.1250" lengthAdjust="spacing">ТОП-10 ЄВРОПЕЙСЬКИХ МІСТ ІЗ НАЙВИЩИМИ</text>
<text x="471" y="1170.6" class="t2" text-anchor="middle" textLength="751.5625" lengthAdjust="spacing">ОРЕНДНИМИ ПЛАТАМИ ЗА ТРИКІМНАТНІ КВАРТИРИ</text>
<rect x="99" y="1582" width="778.8" height="69.6" rx="9" fill="#9ac6e9"></rect>
<line x1="445.5" y1="1208" x2="445.5" y2="1950" stroke="#52708a" stroke-width="1" stroke-dasharray="4 2"></line>
<line x1="502.8" y1="1208" x2="502.8" y2="1950" stroke="#52708a" stroke-width="1" stroke-dasharray="4 2"></line>
<line x1="561.5" y1="1208" x2="561.5" y2="1950" stroke="#52708a" stroke-width="1" stroke-dasharray="4 2"></line>
<line x1="621.5" y1="1208" x2="621.5" y2="1950" stroke="#52708a" stroke-width="1" stroke-dasharray="4 2"></line>
<line x1="680.5" y1="1208" x2="680.5" y2="1950" stroke="#52708a" stroke-width="1" stroke-dasharray="4 2"></line>
<line x1="739.5" y1="1208" x2="739.5" y2="1950" stroke="#52708a" stroke-width="1" stroke-dasharray="4 2"></line>
<line x1="797.5" y1="1208" x2="797.5" y2="1950" stroke="#52708a" stroke-width="1" stroke-dasharray="4 2"></line>
<line x1="855.5" y1="1208" x2="855.5" y2="1950" stroke="#52708a" stroke-width="1" stroke-dasharray="4 2"></line>
<rect x="114.35" y="1224.10" width="45.3" height="44.6" rx="11" fill="#f6f3f2" filter="url(#bsh)"></rect><rect x="117.10" y="1225.80" width="39.8" height="39.8" rx="8.5" fill="#fa0303"></rect><text x="137.40" y="1253.70" class="bn" text-anchor="middle">1</text>
<text x="193.0" y="1242.4" class="city" textLength="84.6094" lengthAdjust="spacing">Лондон</text><svg x="191.8" y="1251.8" width="20.2" height="14" viewBox="0 0 30 20" preserveAspectRatio="none"><rect width="30" height="20" fill="#27337a"></rect><path d="M0,0 L30,20 M30,0 L0,20" stroke="#fff" stroke-width="4"></path><path d="M0,0 L30,20 M30,0 L0,20" stroke="#d0242f" stroke-width="1.1"></path><path d="M15,0 V20 M0,10 H30" stroke="#fff" stroke-width="5.5"></path><path d="M15,0 V20 M0,10 H30" stroke="#c8202a" stroke-width="2.6"></path><rect width="30" height="20" fill="url(#flagshade)"></rect><rect x="0.4" y="0.4" width="29.2" height="19.2" fill="none" stroke="rgba(60,60,80,0.45)" stroke-width="0.8"></rect></svg><text transform="translate(218.3,1265.0) scale(1.08,1)" class="ctry" textLength="125.6733" lengthAdjust="spacing">Велика Британія</text>
<g filter="url(#lsh)"><rect x="388" y="1244.8" width="390.5" height="4" fill="#fa0303"></rect><rect x="386" y="1237.8" width="4" height="18" fill="#fa0303"></rect></g>
<circle cx="778.5" cy="1246.4" r="9.3" fill="#fa0303" stroke="#f6f3f2" stroke-width="2.4" filter="url(#dsh)"></circle>
<rect x="114.35" y="1298.30" width="45.3" height="44.6" rx="11" fill="#f6f3f2" filter="url(#bsh)"></rect><rect x="117.10" y="1300.00" width="39.8" height="39.8" rx="8.5" fill="#fa0303"></rect><text x="137.40" y="1327.90" class="bn" text-anchor="middle">2</text>
<text x="193.0" y="1316.6" class="city" textLength="82.0313" lengthAdjust="spacing">Москва</text><svg x="191.8" y="1326.0" width="20.2" height="14" viewBox="0 0 30 20" preserveAspectRatio="none"><rect width="30" height="7" fill="#fff"></rect><rect y="6.7" width="30" height="6.7" fill="#2b4fb8"></rect><rect y="13.3" width="30" height="6.7" fill="#e0202a"></rect><rect width="30" height="20" fill="url(#flagshade)"></rect><rect x="0.4" y="0.4" width="29.2" height="19.2" fill="none" stroke="rgba(60,60,80,0.45)" stroke-width="0.8"></rect></svg><text transform="translate(218.3,1339.2) scale(1.08,1)" class="ctry" textLength="39.4240" lengthAdjust="spacing">Росія</text>
<g filter="url(#lsh)"><rect x="388" y="1320.2" width="296.9" height="4" fill="#fa0303"></rect><rect x="386" y="1313.2" width="4" height="18" fill="#fa0303"></rect></g>
<circle cx="684.9" cy="1321.8" r="9.3" fill="#fa0303" stroke="#f6f3f2" stroke-width="2.4" filter="url(#dsh)"></circle>
<rect x="114.35" y="1372.90" width="45.3" height="44.6" rx="11" fill="#f6f3f2" filter="url(#bsh)"></rect><rect x="117.10" y="1374.60" width="39.8" height="39.8" rx="8.5" fill="#fa0303"></rect><text x="137.40" y="1402.50" class="bn" text-anchor="middle">3</text>
<text x="193.0" y="1391.2" class="city" textLength="74.4063" lengthAdjust="spacing">Цюрих</text><svg x="191.8" y="1400.6" width="20.2" height="14" viewBox="0 0 30 20" preserveAspectRatio="none"><rect width="30" height="20" fill="#e21a22"></rect><rect x="12.5" y="3.5" width="5" height="13" fill="#fff"></rect><rect x="8.5" y="7.5" width="13" height="5" fill="#fff"></rect><rect width="30" height="20" fill="url(#flagshade)"></rect><rect x="0.4" y="0.4" width="29.2" height="19.2" fill="none" stroke="rgba(60,60,80,0.45)" stroke-width="0.8"></rect></svg><text transform="translate(218.3,1413.8) scale(1.08,1)" class="ctry" textLength="83.0666" lengthAdjust="spacing">Швейцарія</text>
<g filter="url(#lsh)"><rect x="388" y="1393.7" width="271.6" height="4" fill="#fa0303"></rect><rect x="386" y="1386.7" width="4" height="18" fill="#fa0303"></rect></g>
<circle cx="659.6" cy="1395.3" r="9.3" fill="#fa0303" stroke="#f6f3f2" stroke-width="2.4" filter="url(#dsh)"></circle>
<rect x="114.35" y="1446.60" width="45.3" height="44.6" rx="11" fill="#f6f3f2" filter="url(#bsh)"></rect><rect x="117.10" y="1448.30" width="39.8" height="39.8" rx="8.5" fill="#2673bb"></rect><text x="137.40" y="1476.20" class="bn" text-anchor="middle">4</text>
<text x="193.0" y="1464.9" class="city" textLength="84.4844" lengthAdjust="spacing">Женева</text><svg x="191.8" y="1474.3" width="20.2" height="14" viewBox="0 0 30 20" preserveAspectRatio="none"><rect width="30" height="20" fill="#e21a22"></rect><rect x="12.5" y="3.5" width="5" height="13" fill="#fff"></rect><rect x="8.5" y="7.5" width="13" height="5" fill="#fff"></rect><rect width="30" height="20" fill="url(#flagshade)"></rect><rect x="0.4" y="0.4" width="29.2" height="19.2" fill="none" stroke="rgba(60,60,80,0.45)" stroke-width="0.8"></rect></svg><text transform="translate(218.3,1487.5) scale(1.08,1)" class="ctry" textLength="83.0666" lengthAdjust="spacing">Швейцарія</text>
<g filter="url(#lsh)"><rect x="388" y="1468.6" width="265.7" height="4" fill="#2a70b0"></rect><rect x="386" y="1461.6" width="4" height="18" fill="#2a70b0"></rect></g>
<circle cx="653.7" cy="1470.2" r="9.3" fill="#2a70b0" stroke="#f6f3f2" stroke-width="2.4" filter="url(#dsh)"></circle>
<rect x="114.35" y="1520.30" width="45.3" height="44.6" rx="11" fill="#f6f3f2" filter="url(#bsh)"></rect><rect x="117.10" y="1522.00" width="39.8" height="39.8" rx="8.5" fill="#2673bb"></rect><text x="137.40" y="1549.90" class="bn" text-anchor="middle">5</text>
<text x="193.0" y="1538.6" class="city" textLength="92.3906" lengthAdjust="spacing">Стамбул</text><svg x="191.8" y="1548.0" width="20.2" height="14" viewBox="0 0 30 20" preserveAspectRatio="none"><rect width="30" height="20" fill="#e31c24"></rect><circle cx="11.5" cy="10" r="5" fill="#fff"></circle><circle cx="12.8" cy="10" r="4" fill="#e31c24"></circle><path d="M17.2,10 l3.6,-1.3 -2.2,3.1 0,-3.6 2.2,3.1z" fill="#fff"></path><rect width="30" height="20" fill="url(#flagshade)"></rect><rect x="0.4" y="0.4" width="29.2" height="19.2" fill="none" stroke="rgba(60,60,80,0.45)" stroke-width="0.8"></rect></svg><text transform="translate(218.3,1561.2) scale(1.08,1)" class="ctry" textLength="79.5085" lengthAdjust="spacing">Туреччина</text>
<g filter="url(#lsh)"><rect x="388" y="1542.3" width="228.7" height="4" fill="#2a70b0"></rect><rect x="386" y="1535.3" width="4" height="18" fill="#2a70b0"></rect></g>
<circle cx="616.7" cy="1543.9" r="9.3" fill="#2a70b0" stroke="#f6f3f2" stroke-width="2.4" filter="url(#dsh)"></circle>
<rect x="114.35" y="1593.20" width="45.3" height="44.6" rx="11" fill="#c2d8ed" filter="url(#bsh)"></rect><rect x="117.10" y="1594.90" width="39.8" height="39.8" rx="8.5" fill="#2673bb"></rect><text x="137.40" y="1622.80" class="bn" text-anchor="middle">6</text>
<text x="193.0" y="1611.5" class="city" textLength="47.6719" lengthAdjust="spacing">Київ</text><svg x="191.8" y="1620.9" width="20.2" height="14" viewBox="0 0 30 20" preserveAspectRatio="none"><rect width="30" height="10" fill="#3a78c8"></rect><rect y="10" width="30" height="10" fill="#f5e21a"></rect><rect width="30" height="20" fill="url(#flagshade)"></rect><rect x="0.4" y="0.4" width="29.2" height="19.2" fill="none" stroke="rgba(60,60,80,0.45)" stroke-width="0.8"></rect></svg><text transform="translate(218.3,1634.1) scale(1.08,1)" class="ctry" textLength="57.3194" lengthAdjust="spacing">Україна</text>
<g filter="url(#lsh)"><rect x="388" y="1617.4" width="196.1" height="4" fill="#2a70b0"></rect><rect x="386" y="1610.4" width="4" height="18" fill="#2a70b0"></rect></g>
<circle cx="584.1" cy="1619.0" r="9.3" fill="#2a70b0" stroke="#f6f3f2" stroke-width="2.4" filter="url(#dsh)"></circle>
<rect x="114.35" y="1668.60" width="45.3" height="44.6" rx="11" fill="#f6f3f2" filter="url(#bsh)"></rect><rect x="117.10" y="1670.30" width="39.8" height="39.8" rx="8.5" fill="#2673bb"></rect><text x="137.40" y="1698.20" class="bn" text-anchor="middle">7</text>
<text x="193.0" y="1686.9" class="city" textLength="73.0156" lengthAdjust="spacing">Париж</text><svg x="191.8" y="1696.3" width="20.2" height="14" viewBox="0 0 30 20" preserveAspectRatio="none"><rect width="10" height="20" fill="#24389a"></rect><rect x="10" width="10" height="20" fill="#fff"></rect><rect x="20" width="10" height="20" fill="#e8202a"></rect><rect width="30" height="20" fill="url(#flagshade)"></rect><rect x="0.4" y="0.4" width="29.2" height="19.2" fill="none" stroke="rgba(60,60,80,0.45)" stroke-width="0.8"></rect></svg><text transform="translate(218.3,1709.5) scale(1.08,1)" class="ctry" textLength="63.0393" lengthAdjust="spacing">Франція</text>
<g filter="url(#lsh)"><rect x="388" y="1691.2" width="193.7" height="4" fill="#2a70b0"></rect><rect x="386" y="1684.2" width="4" height="18" fill="#2a70b0"></rect></g>
<circle cx="581.7" cy="1692.8" r="9.3" fill="#2a70b0" stroke="#f6f3f2" stroke-width="2.4" filter="url(#dsh)"></circle>
<rect x="114.35" y="1742.30" width="45.3" height="44.6" rx="11" fill="#f6f3f2" filter="url(#bsh)"></rect><rect x="117.10" y="1744.00" width="39.8" height="39.8" rx="8.5" fill="#2673bb"></rect><text x="137.40" y="1771.90" class="bn" text-anchor="middle">8</text>
<text x="193.0" y="1760.6" class="city" textLength="76.0781" lengthAdjust="spacing">Дублін</text><svg x="191.8" y="1770.0" width="20.2" height="14" viewBox="0 0 30 20" preserveAspectRatio="none"><rect width="10" height="20" fill="#2a9a48"></rect><rect x="10" width="10" height="20" fill="#fff"></rect><rect x="20" width="10" height="20" fill="#f08a24"></rect><rect width="30" height="20" fill="url(#flagshade)"></rect><rect x="0.4" y="0.4" width="29.2" height="19.2" fill="none" stroke="rgba(60,60,80,0.45)" stroke-width="0.8"></rect></svg><text transform="translate(218.3,1783.2) scale(1.08,1)" class="ctry" textLength="63.6849" lengthAdjust="spacing">Ірландія</text>
<g filter="url(#lsh)"><rect x="388" y="1766.2" width="190.9" height="4" fill="#2a70b0"></rect><rect x="386" y="1759.2" width="4" height="18" fill="#2a70b0"></rect></g>
<circle cx="578.9" cy="1767.8" r="9.3" fill="#2a70b0" stroke="#f6f3f2" stroke-width="2.4" filter="url(#dsh)"></circle>
<rect x="114.35" y="1815.40" width="45.3" height="44.6" rx="11" fill="#f6f3f2" filter="url(#bsh)"></rect><rect x="117.10" y="1817.10" width="39.8" height="39.8" rx="8.5" fill="#2673bb"></rect><text x="137.40" y="1845.00" class="bn" text-anchor="middle">9</text>
<text x="193.0" y="1833.7" class="city" textLength="123.7500" lengthAdjust="spacing">Амстердам</text><svg x="191.8" y="1843.1" width="20.2" height="14" viewBox="0 0 30 20" preserveAspectRatio="none"><rect width="30" height="7" fill="#c8202a"></rect><rect y="6.7" width="30" height="6.7" fill="#fff"></rect><rect y="13.3" width="30" height="6.7" fill="#2b4a98"></rect><rect width="30" height="20" fill="url(#flagshade)"></rect><rect x="0.4" y="0.4" width="29.2" height="19.2" fill="none" stroke="rgba(60,60,80,0.45)" stroke-width="0.8"></rect></svg><text transform="translate(218.3,1856.3) scale(1.08,1)" class="ctry" textLength="89.7924" lengthAdjust="spacing">Нідерланди</text>
<g filter="url(#lsh)"><rect x="388" y="1840.6" width="185.0" height="4" fill="#2a70b0"></rect><rect x="386" y="1833.6" width="4" height="18" fill="#2a70b0"></rect></g>
<circle cx="573" cy="1842.2" r="9.3" fill="#2a70b0" stroke="#f6f3f2" stroke-width="2.4" filter="url(#dsh)"></circle>
<rect x="114.35" y="1890.60" width="45.3" height="44.6" rx="11" fill="#f6f3f2" filter="url(#bsh)"></rect><rect x="117.10" y="1892.30" width="39.8" height="39.8" rx="8.5" fill="#2673bb"></rect><text x="137.40" y="1920.20" class="bn" text-anchor="middle" textLength="26.9844" lengthAdjust="spacing">10</text>
<text x="193.0" y="1908.9" class="city" textLength="117.1406" lengthAdjust="spacing">Стокгольм</text><svg x="191.8" y="1918.3" width="20.2" height="14" viewBox="0 0 30 20" preserveAspectRatio="none"><rect width="30" height="20" fill="#2a62a8"></rect><rect x="8" width="4" height="20" fill="#f5d21a"></rect><rect y="8" width="30" height="4" fill="#f5d21a"></rect><rect width="30" height="20" fill="url(#flagshade)"></rect><rect x="0.4" y="0.4" width="29.2" height="19.2" fill="none" stroke="rgba(60,60,80,0.45)" stroke-width="0.8"></rect></svg><text transform="translate(218.3,1931.5) scale(1.08,1)" class="ctry" textLength="55.8331" lengthAdjust="spacing">Швеція</text>
<g filter="url(#lsh)"><rect x="388" y="1915.5" width="184.7" height="4" fill="#2a70b0"></rect><rect x="386" y="1908.5" width="4" height="18" fill="#2a70b0"></rect></g>
<circle cx="572.7" cy="1917.1" r="9.3" fill="#2a70b0" stroke="#f6f3f2" stroke-width="2.4" filter="url(#dsh)"></circle>
<text x="389" y="1970.6" class="ax" text-anchor="middle">$</text>
<text x="445.5" y="1970.6" class="ax" text-anchor="middle" textLength="38.4375" lengthAdjust="spacing">1000</text>
<text x="502.8" y="1970.6" class="ax" text-anchor="middle" textLength="38.4375" lengthAdjust="spacing">2000</text>
<text x="561.5" y="1970.6" class="ax" text-anchor="middle" textLength="38.4375" lengthAdjust="spacing">3000</text>
<text x="621.5" y="1970.6" class="ax" text-anchor="middle" textLength="38.4375" lengthAdjust="spacing">4000</text>
<text x="680.5" y="1970.6" class="ax" text-anchor="middle" textLength="38.4375" lengthAdjust="spacing">5000</text>
<text x="739.5" y="1970.6" class="ax" text-anchor="middle" textLength="38.4375" lengthAdjust="spacing">6000</text>
<text x="797.5" y="1970.6" class="ax" text-anchor="middle" textLength="38.4375" lengthAdjust="spacing">7000</text>
<text x="855.5" y="1970.6" class="ax" text-anchor="middle" textLength="38.4375" lengthAdjust="spacing">8000</text>
<text x="874.5" y="2011.2" class="src" text-anchor="end" textLength="183.7031" lengthAdjust="spacing">ЗА ДАНИМИ ECA INTERNATIONAL</text>
</svg></body></html>
